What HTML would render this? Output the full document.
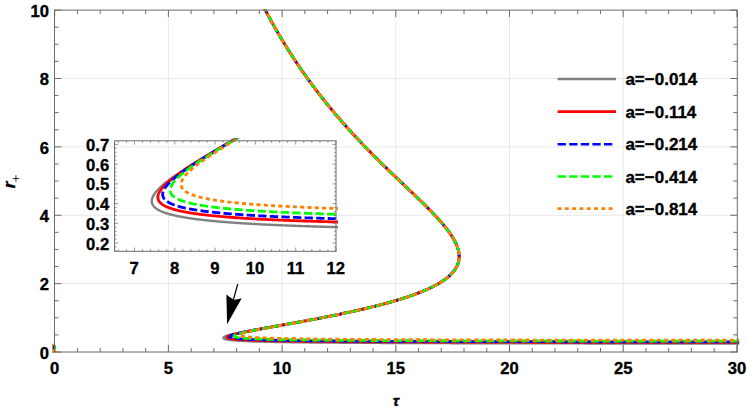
<!DOCTYPE html><html><head><meta charset="utf-8"><style>html,body{margin:0;padding:0;background:#fff}body{width:747px;height:407px;overflow:hidden;font-family:"Liberation Sans",sans-serif}</style></head><body><svg width="747" height="407" viewBox="0 0 747 407" style="display:block">
<rect width="747" height="407" fill="#fff"/>
<defs><clipPath id="cm"><rect x="51.50" y="9.60" width="687.60" height="343.40"/></clipPath><clipPath id="ci"><rect x="114.60" y="138.60" width="223.40" height="112.70"/></clipPath></defs>
<path d="M168.40 10.10 V352.00 M282.10 10.10 V352.00 M395.80 10.10 V352.00 M509.50 10.10 V352.00 M623.20 10.10 V352.00 M54.50 283.62 H737.30 M54.50 215.24 H737.30 M54.50 146.86 H737.30 M54.50 78.48 H737.30" stroke="#dadada" stroke-width="0.6" fill="none"/>
<g clip-path="url(#cm)" fill="none" stroke-width="2.8" stroke-linejoin="round">
<path d="M53.2 343.8 V353 M52.3 351.4 H56.2" stroke="#ff7f00" stroke-width="2.2"/><path d="M53.6 345.5 V349" stroke="#0000ff" stroke-width="1.4"/><path d="M55.2 345 V349.5" stroke="#00ff00" stroke-width="1.6"/>
<path d="M747.82 343.38 L745.06 343.38 L742.30 343.37 L739.56 343.37 L736.83 343.37 L734.11 343.37 L731.41 343.37 L728.71 343.37 L726.03 343.36 L723.37 343.36 L720.71 343.36 L718.07 343.36 L715.44 343.36 L712.82 343.35 L710.22 343.35 L707.62 343.35 L705.04 343.35 L702.47 343.35 L699.91 343.34 L697.37 343.34 L694.83 343.34 L692.31 343.34 L689.80 343.33 L687.30 343.33 L684.81 343.33 L682.34 343.33 L679.87 343.33 L677.42 343.32 L674.98 343.32 L672.55 343.32 L670.13 343.32 L667.72 343.32 L665.33 343.31 L662.94 343.31 L660.57 343.31 L658.21 343.31 L655.85 343.30 L653.51 343.30 L651.18 343.30 L648.86 343.30 L646.56 343.30 L644.26 343.29 L641.97 343.29 L639.70 343.29 L637.43 343.29 L635.17 343.28 L632.93 343.28 L630.70 343.28 L628.47 343.28 L626.26 343.27 L624.06 343.27 L621.86 343.27 L619.68 343.27 L617.51 343.26 L615.35 343.26 L613.19 343.26 L611.05 343.26 L608.92 343.26 L606.80 343.25 L604.68 343.25 L602.58 343.25 L600.49 343.25 L598.41 343.24 L596.33 343.24 L594.27 343.24 L592.22 343.24 L590.17 343.23 L588.14 343.23 L586.11 343.23 L584.10 343.22 L582.09 343.22 L580.09 343.22 L578.11 343.22 L576.13 343.21 L574.16 343.21 L572.20 343.21 L570.25 343.21 L568.31 343.20 L566.38 343.20 L564.45 343.20 L562.54 343.20 L560.63 343.19 L558.74 343.19 L556.85 343.19 L554.97 343.18 L553.10 343.18 L551.24 343.18 L549.39 343.18 L547.55 343.17 L545.71 343.17 L543.88 343.17 L542.07 343.16 L540.26 343.16 L538.46 343.16 L536.66 343.16 L534.88 343.15 L533.10 343.15 L531.34 343.15 L529.58 343.14 L527.83 343.14 L526.09 343.14 L524.35 343.14 L522.63 343.13 L520.91 343.13 L519.20 343.13 L517.50 343.12 L515.80 343.12 L514.12 343.12 L512.44 343.11 L510.77 343.11 L509.11 343.11 L507.46 343.10 L505.81 343.10 L504.17 343.10 L502.54 343.09 L500.92 343.09 L499.30 343.09 L497.69 343.09 L496.09 343.08 L494.50 343.08 L492.92 343.08 L491.34 343.07 L489.77 343.07 L488.21 343.07 L486.65 343.06 L485.10 343.06 L483.56 343.06 L482.03 343.05 L480.50 343.05 L478.98 343.05 L477.47 343.04 L475.97 343.04 L474.47 343.03 L472.98 343.03 L471.50 343.03 L470.02 343.02 L468.55 343.02 L467.09 343.02 L465.64 343.01 L464.19 343.01 L462.75 343.01 L461.31 343.00 L459.88 343.00 L458.46 343.00 L457.05 342.99 L455.64 342.99 L454.24 342.98 L452.85 342.98 L451.46 342.98 L450.08 342.97 L448.70 342.97 L447.34 342.97 L445.98 342.96 L444.62 342.96 L443.27 342.95 L441.93 342.95 L440.60 342.95 L439.27 342.94 L437.95 342.94 L436.63 342.94 L435.32 342.93 L434.02 342.93 L432.72 342.92 L431.43 342.92 L430.14 342.92 L428.86 342.91 L427.59 342.91 L426.33 342.90 L425.07 342.90 L423.81 342.89 L422.56 342.89 L421.32 342.89 L420.08 342.88 L418.85 342.88 L417.63 342.87 L416.41 342.87 L415.20 342.87 L413.99 342.86 L412.79 342.86 L411.60 342.85 L410.41 342.85 L409.22 342.84 L408.04 342.84 L406.87 342.84 L405.71 342.83 L404.54 342.83 L403.39 342.82 L402.24 342.82 L401.10 342.81 L399.96 342.81 L398.82 342.80 L397.70 342.80 L396.57 342.79 L395.46 342.79 L394.35 342.79 L393.24 342.78 L392.14 342.78 L391.05 342.77 L389.96 342.77 L388.87 342.76 L387.79 342.76 L386.72 342.75 L385.65 342.75 L384.59 342.74 L383.53 342.74 L382.48 342.73 L381.43 342.73 L380.39 342.72 L379.35 342.72 L378.32 342.71 L377.29 342.71 L376.27 342.70 L375.25 342.70 L374.24 342.69 L373.23 342.69 L372.23 342.68 L371.23 342.68 L370.24 342.67 L369.25 342.67 L368.27 342.66 L367.29 342.66 L366.31 342.65 L365.35 342.65 L364.38 342.64 L363.42 342.64 L362.47 342.63 L361.52 342.63 L360.58 342.62 L359.64 342.62 L358.70 342.61 L357.77 342.60 L356.84 342.60 L355.92 342.59 L355.01 342.59 L354.09 342.58 L353.19 342.58 L352.28 342.57 L351.39 342.57 L349.60 342.55 L347.84 342.54 L346.09 342.53 L344.36 342.52 L342.64 342.51 L340.95 342.50 L339.27 342.48 L337.61 342.47 L335.96 342.46 L334.34 342.45 L332.72 342.44 L331.13 342.42 L329.55 342.41 L327.99 342.40 L326.44 342.38 L324.91 342.37 L323.39 342.36 L321.89 342.35 L320.41 342.33 L318.94 342.32 L317.49 342.30 L316.05 342.29 L314.62 342.28 L313.22 342.26 L311.82 342.25 L310.44 342.23 L309.08 342.22 L307.73 342.21 L306.39 342.19 L305.07 342.18 L303.76 342.16 L302.47 342.15 L301.19 342.13 L299.92 342.12 L298.67 342.10 L297.43 342.08 L296.20 342.07 L294.99 342.05 L293.79 342.04 L292.61 342.02 L291.43 342.00 L290.27 341.99 L289.13 341.97 L287.99 341.95 L286.87 341.94 L285.76 341.92 L284.66 341.90 L283.58 341.89 L282.50 341.87 L281.44 341.85 L280.40 341.83 L279.36 341.81 L278.33 341.80 L277.32 341.78 L276.32 341.76 L275.33 341.74 L274.35 341.72 L273.39 341.70 L272.43 341.68 L271.49 341.66 L270.56 341.64 L269.63 341.62 L268.72 341.60 L267.83 341.58 L266.94 341.56 L265.62 341.53 L264.34 341.50 L263.07 341.47 L261.83 341.44 L260.61 341.40 L259.42 341.37 L258.25 341.34 L257.10 341.30 L255.97 341.27 L254.87 341.23 L253.79 341.20 L252.73 341.16 L251.69 341.12 L250.68 341.09 L249.68 341.05 L248.71 341.01 L247.75 340.97 L246.82 340.93 L245.91 340.89 L245.02 340.85 L244.15 340.81 L243.01 340.76 L241.92 340.70 L240.86 340.64 L239.83 340.59 L238.84 340.53 L237.88 340.47 L236.96 340.40 L236.07 340.34 L235.21 340.28 L234.18 340.19 L233.20 340.11 L232.28 340.03 L231.40 339.94 L230.57 339.85 L229.64 339.74 L228.78 339.62 L227.98 339.51 L227.15 339.37 L226.30 339.20 L225.57 339.03 L224.82 338.80 L224.16 338.52 L223.67 338.09 L223.89 337.40 L224.44 337.00 L225.06 336.68 L225.78 336.38 L226.44 336.14 L227.19 335.89 L227.90 335.67 L228.67 335.44 L229.51 335.20 L230.27 335.00 L231.06 334.80 L231.91 334.59 L232.80 334.38 L233.55 334.20 L234.32 334.02 L235.13 333.84 L235.97 333.66 L236.84 333.47 L237.73 333.28 L238.66 333.08 L239.62 332.88 L240.61 332.68 L241.38 332.52 L242.16 332.37 L242.96 332.21 L243.78 332.05 L244.61 331.88 L245.46 331.72 L246.33 331.55 L247.22 331.38 L248.13 331.21 L249.05 331.03 L250.00 330.85 L250.96 330.67 L251.94 330.49 L252.93 330.31 L253.95 330.12 L254.99 329.93 L256.04 329.74 L257.11 329.54 L258.20 329.34 L259.31 329.14 L260.44 328.94 L261.58 328.73 L262.36 328.59 L263.14 328.45 L263.93 328.31 L264.73 328.17 L265.54 328.02 L266.35 327.87 L267.18 327.73 L268.01 327.58 L268.85 327.43 L269.70 327.28 L270.56 327.12 L271.42 326.97 L272.30 326.81 L273.18 326.66 L274.07 326.50 L274.97 326.34 L275.88 326.18 L276.80 326.01 L277.72 325.85 L278.65 325.68 L279.60 325.52 L280.54 325.35 L281.50 325.18 L282.47 325.00 L283.44 324.83 L284.43 324.65 L285.42 324.48 L286.42 324.30 L287.42 324.12 L288.44 323.94 L289.46 323.75 L290.50 323.57 L291.54 323.38 L292.58 323.19 L293.64 323.00 L294.70 322.81 L295.78 322.61 L296.86 322.42 L297.94 322.22 L299.04 322.02 L300.14 321.82 L301.25 321.62 L302.37 321.41 L303.50 321.20 L304.63 320.99 L305.78 320.78 L306.93 320.57 L308.08 320.36 L309.25 320.14 L310.42 319.92 L311.60 319.70 L312.78 319.48 L313.98 319.25 L315.18 319.02 L316.39 318.79 L317.60 318.56 L318.82 318.33 L320.05 318.09 L321.28 317.86 L322.52 317.62 L323.77 317.37 L325.02 317.13 L326.28 316.88 L327.55 316.63 L328.82 316.38 L330.10 316.13 L331.38 315.87 L332.67 315.61 L333.97 315.35 L335.27 315.09 L336.57 314.82 L337.88 314.56 L339.20 314.29 L340.52 314.01 L341.85 313.74 L343.18 313.46 L344.51 313.18 L345.85 312.89 L347.19 312.61 L348.54 312.32 L349.89 312.03 L351.24 311.73 L352.60 311.44 L353.96 311.14 L355.32 310.84 L356.69 310.53 L358.06 310.22 L359.43 309.91 L360.81 309.60 L361.71 309.39 L362.60 309.19 L363.49 308.98 L364.38 308.77 L365.26 308.57 L366.13 308.36 L367.01 308.15 L367.87 307.95 L368.74 307.74 L369.59 307.53 L370.45 307.33 L371.30 307.12 L372.14 306.91 L372.98 306.71 L373.82 306.50 L374.65 306.29 L375.47 306.09 L376.29 305.88 L377.11 305.67 L377.92 305.47 L378.73 305.26 L379.53 305.05 L380.33 304.85 L381.12 304.64 L381.91 304.43 L382.69 304.23 L383.47 304.02 L384.25 303.81 L385.02 303.61 L385.78 303.40 L386.54 303.20 L387.30 302.99 L388.05 302.78 L388.79 302.58 L389.54 302.37 L390.27 302.16 L391.01 301.96 L391.73 301.75 L392.46 301.54 L393.18 301.34 L393.89 301.13 L394.60 300.92 L395.30 300.72 L396.00 300.51 L396.70 300.30 L397.74 299.99 L398.76 299.68 L399.77 299.37 L400.78 299.06 L401.77 298.75 L402.76 298.44 L403.73 298.13 L404.69 297.82 L405.64 297.51 L406.59 297.20 L407.52 296.89 L408.44 296.58 L409.36 296.27 L410.26 295.97 L411.15 295.66 L412.03 295.35 L412.91 295.04 L413.77 294.73 L414.62 294.42 L415.47 294.11 L416.30 293.80 L417.12 293.49 L417.94 293.18 L418.74 292.87 L419.54 292.56 L420.32 292.25 L421.10 291.94 L421.87 291.63 L422.62 291.32 L423.37 291.01 L424.11 290.70 L424.84 290.39 L425.56 290.08 L426.27 289.77 L426.97 289.46 L427.66 289.15 L428.35 288.84 L429.02 288.53 L429.68 288.22 L430.34 287.91 L430.99 287.60 L431.63 287.29 L432.26 286.98 L432.88 286.67 L433.49 286.36 L434.09 286.05 L434.69 285.74 L435.47 285.33 L436.23 284.91 L436.98 284.50 L437.72 284.09 L438.44 283.67 L439.14 283.26 L439.83 282.85 L440.51 282.43 L441.17 282.02 L441.82 281.61 L442.45 281.20 L443.07 280.78 L443.68 280.37 L444.27 279.96 L444.85 279.54 L445.42 279.13 L445.97 278.72 L446.51 278.30 L447.03 277.89 L447.54 277.48 L448.04 277.06 L448.53 276.65 L449.12 276.13 L449.69 275.62 L450.25 275.10 L450.78 274.58 L451.29 274.07 L451.79 273.55 L452.27 273.04 L452.72 272.52 L453.17 272.00 L453.59 271.49 L454.00 270.97 L454.38 270.45 L454.83 269.83 L455.25 269.21 L455.65 268.59 L456.02 267.97 L456.37 267.35 L456.70 266.74 L457.00 266.12 L457.29 265.50 L457.59 264.77 L457.87 264.05 L458.11 263.33 L458.33 262.60 L458.53 261.88 L458.71 261.05 L458.87 260.23 L458.99 259.40 L459.08 258.58 L459.14 257.65 L459.17 256.72 L459.15 255.79 L459.10 254.86 L459.02 253.93 L458.92 253.10 L458.79 252.27 L458.63 251.45 L458.45 250.62 L458.27 249.90 L458.07 249.18 L457.86 248.45 L457.63 247.73 L457.38 247.01 L457.11 246.28 L456.83 245.56 L456.53 244.84 L456.22 244.12 L455.94 243.50 L455.65 242.88 L455.34 242.26 L455.03 241.64 L454.71 241.02 L454.38 240.40 L454.04 239.78 L453.69 239.16 L453.32 238.54 L452.96 237.92 L452.58 237.30 L452.19 236.68 L451.79 236.06 L451.39 235.44 L450.98 234.82 L450.56 234.20 L450.13 233.58 L449.70 232.96 L449.26 232.34 L448.81 231.72 L448.35 231.10 L447.97 230.58 L447.58 230.07 L447.18 229.55 L446.78 229.04 L446.38 228.52 L445.97 228.00 L445.56 227.49 L445.15 226.97 L444.73 226.45 L444.30 225.94 L443.88 225.42 L443.45 224.90 L443.01 224.39 L442.57 223.87 L442.13 223.35 L441.69 222.84 L441.24 222.32 L440.79 221.81 L440.33 221.29 L439.88 220.77 L439.42 220.26 L438.95 219.74 L438.49 219.22 L438.02 218.71 L437.54 218.19 L437.07 217.67 L436.59 217.16 L436.11 216.64 L435.63 216.12 L435.15 215.61 L434.66 215.09 L434.17 214.58 L433.68 214.06 L433.19 213.54 L432.69 213.03 L432.19 212.51 L431.69 211.99 L431.19 211.48 L430.69 210.96 L430.18 210.44 L429.68 209.93 L429.17 209.41 L428.66 208.89 L428.15 208.38 L427.63 207.86 L427.12 207.35 L426.60 206.83 L426.09 206.31 L425.57 205.80 L425.05 205.28 L424.52 204.76 L424.00 204.25 L423.48 203.73 L422.95 203.21 L422.43 202.70 L421.90 202.18 L421.37 201.66 L420.84 201.15 L420.31 200.63 L419.78 200.12 L419.25 199.60 L418.72 199.08 L418.18 198.57 L417.65 198.05 L417.12 197.53 L416.58 197.02 L416.04 196.50 L415.51 195.98 L414.97 195.47 L414.43 194.95 L413.89 194.43 L413.36 193.92 L412.82 193.40 L412.28 192.89 L411.74 192.37 L411.20 191.85 L410.66 191.34 L410.12 190.82 L409.58 190.30 L409.03 189.79 L408.49 189.27 L407.95 188.75 L407.41 188.24 L406.87 187.72 L406.33 187.20 L405.78 186.69 L405.24 186.17 L404.70 185.66 L404.16 185.14 L403.62 184.62 L403.07 184.11 L402.53 183.59 L401.99 183.07 L401.45 182.56 L400.91 182.04 L400.37 181.52 L399.82 181.01 L399.28 180.49 L398.74 179.97 L398.20 179.46 L397.66 178.94 L397.12 178.43 L396.58 177.91 L396.04 177.39 L395.50 176.88 L394.96 176.36 L394.43 175.84 L393.89 175.33 L393.35 174.81 L392.81 174.29 L392.28 173.78 L391.74 173.26 L391.20 172.74 L390.67 172.23 L390.13 171.71 L389.60 171.20 L389.07 170.68 L388.53 170.16 L388.00 169.65 L387.47 169.13 L386.93 168.61 L386.40 168.10 L385.87 167.58 L385.34 167.06 L384.81 166.55 L384.28 166.03 L383.76 165.51 L383.23 165.00 L382.70 164.48 L382.18 163.97 L381.65 163.45 L381.13 162.93 L380.60 162.42 L380.08 161.90 L379.55 161.38 L379.03 160.87 L378.51 160.35 L377.99 159.83 L377.47 159.32 L376.95 158.80 L376.43 158.28 L375.92 157.77 L375.40 157.25 L374.88 156.74 L374.37 156.22 L373.85 155.70 L373.34 155.19 L372.83 154.67 L372.31 154.15 L371.80 153.64 L371.29 153.12 L370.78 152.60 L370.27 152.09 L369.77 151.57 L369.26 151.05 L368.75 150.54 L368.25 150.02 L367.74 149.51 L367.24 148.99 L366.74 148.47 L366.24 147.96 L365.74 147.44 L365.24 146.92 L364.74 146.41 L364.24 145.89 L363.74 145.37 L363.24 144.86 L362.75 144.34 L362.25 143.82 L361.76 143.31 L361.27 142.79 L360.78 142.27 L360.29 141.76 L359.80 141.24 L359.31 140.73 L358.82 140.21 L358.33 139.69 L357.85 139.18 L357.36 138.66 L356.88 138.14 L356.39 137.63 L355.91 137.11 L355.43 136.59 L354.95 136.08 L354.47 135.56 L353.99 135.04 L353.51 134.53 L353.04 134.01 L352.56 133.50 L352.09 132.98 L351.61 132.46 L351.14 131.95 L350.67 131.43 L350.20 130.91 L349.73 130.40 L349.26 129.88 L348.79 129.36 L348.33 128.85 L347.86 128.33 L347.40 127.81 L346.93 127.30 L346.47 126.78 L346.01 126.27 L345.55 125.75 L345.09 125.23 L344.63 124.72 L344.17 124.20 L343.72 123.68 L343.26 123.17 L342.81 122.65 L342.35 122.13 L341.90 121.62 L341.45 121.10 L341.00 120.58 L340.55 120.07 L340.10 119.55 L339.65 119.04 L339.20 118.52 L338.76 118.00 L338.31 117.49 L337.87 116.97 L337.43 116.45 L336.99 115.94 L336.54 115.42 L336.10 114.90 L335.67 114.39 L335.23 113.87 L334.79 113.35 L334.36 112.84 L333.92 112.32 L333.49 111.81 L333.05 111.29 L332.62 110.77 L332.19 110.26 L331.76 109.74 L331.33 109.22 L330.91 108.71 L330.48 108.19 L330.05 107.67 L329.63 107.16 L329.20 106.64 L328.78 106.12 L328.36 105.61 L327.94 105.09 L327.52 104.58 L327.10 104.06 L326.68 103.54 L326.26 103.03 L325.85 102.51 L325.43 101.99 L325.02 101.48 L324.61 100.96 L324.19 100.44 L323.78 99.93 L323.37 99.41 L322.96 98.89 L322.55 98.38 L322.15 97.86 L321.74 97.35 L321.33 96.83 L320.93 96.31 L320.53 95.80 L320.12 95.28 L319.72 94.76 L319.32 94.25 L318.92 93.73 L318.52 93.21 L318.13 92.70 L317.73 92.18 L317.33 91.66 L316.94 91.15 L316.54 90.63 L316.15 90.12 L315.76 89.60 L315.37 89.08 L314.98 88.57 L314.59 88.05 L314.20 87.53 L313.81 87.02 L313.42 86.50 L313.04 85.98 L312.65 85.47 L312.27 84.95 L311.81 84.33 L311.35 83.71 L310.90 83.09 L310.44 82.47 L309.99 81.85 L309.53 81.23 L309.08 80.61 L308.63 79.99 L308.18 79.37 L307.74 78.75 L307.29 78.13 L306.84 77.51 L306.40 76.89 L305.96 76.27 L305.52 75.66 L305.08 75.04 L304.64 74.42 L304.20 73.80 L303.77 73.18 L303.33 72.56 L302.90 71.94 L302.47 71.32 L302.03 70.70 L301.60 70.08 L301.18 69.46 L300.75 68.84 L300.32 68.22 L299.90 67.60 L299.47 66.98 L299.05 66.36 L298.63 65.74 L298.21 65.12 L297.79 64.50 L297.37 63.88 L296.96 63.26 L296.54 62.64 L296.13 62.02 L295.72 61.40 L295.30 60.78 L294.89 60.16 L294.48 59.54 L294.08 58.92 L293.67 58.30 L293.26 57.68 L292.86 57.06 L292.46 56.44 L292.05 55.82 L291.65 55.20 L291.25 54.58 L290.86 53.97 L290.46 53.35 L290.06 52.73 L289.67 52.11 L289.27 51.49 L288.88 50.87 L288.49 50.25 L288.10 49.63 L287.71 49.01 L287.32 48.39 L286.93 47.77 L286.55 47.15 L286.16 46.53 L285.78 45.91 L285.39 45.29 L285.01 44.67 L284.63 44.05 L284.25 43.43 L283.87 42.81 L283.50 42.19 L283.12 41.57 L282.74 40.95 L282.37 40.33 L282.00 39.71 L281.62 39.09 L281.25 38.47 L280.88 37.85 L280.51 37.23 L280.15 36.61 L279.78 35.99 L279.41 35.37 L279.05 34.75 L278.69 34.13 L278.32 33.51 L277.96 32.89 L277.60 32.27 L277.24 31.66 L276.88 31.04 L276.53 30.42 L276.17 29.80 L275.81 29.18 L275.46 28.56 L275.11 27.94 L274.75 27.32 L274.40 26.70 L274.05 26.08 L273.70 25.46 L273.35 24.84 L273.01 24.22 L272.66 23.60 L272.31 22.98 L271.97 22.36 L271.62 21.74 L271.28 21.12 L270.94 20.50 L270.60 19.88 L270.26 19.26 L269.92 18.64 L269.58 18.02 L269.25 17.40 L268.91 16.78 L268.58 16.16 L268.24 15.54 L267.91 14.92 L267.58 14.30 L267.24 13.68 L266.91 13.06 L266.58 12.44 L266.26 11.82 L265.93 11.20 L265.60 10.58 L265.28 9.97 L264.95 9.35 L264.63 8.73 L264.30 8.11 L263.98 7.49 L263.66 6.87 L263.34 6.25 L263.02 5.63 L262.70 5.01 L262.38 4.39 L262.07 3.77 L261.75 3.15 L261.44 2.53 L261.12 1.91 L260.81 1.29 L260.49 0.67 L260.18 0.05 L260.08 -0.16" stroke="#808080"/>
<path d="M747.78 342.44 L745.03 342.44 L742.29 342.44 L739.56 342.44 L736.85 342.44 L734.14 342.43 L731.46 342.43 L728.78 342.43 L726.11 342.43 L723.46 342.43 L720.82 342.43 L718.20 342.42 L715.58 342.42 L712.98 342.42 L710.39 342.42 L707.81 342.42 L705.24 342.41 L702.68 342.41 L700.14 342.41 L697.61 342.41 L695.09 342.41 L692.58 342.40 L690.09 342.40 L687.60 342.40 L685.13 342.40 L682.67 342.40 L680.22 342.39 L677.78 342.39 L675.35 342.39 L672.94 342.39 L670.53 342.39 L668.14 342.38 L665.76 342.38 L663.38 342.38 L661.02 342.38 L658.68 342.38 L656.34 342.37 L654.01 342.37 L651.69 342.37 L649.39 342.37 L647.09 342.37 L644.81 342.36 L642.54 342.36 L640.27 342.36 L638.02 342.36 L635.78 342.36 L633.55 342.35 L631.33 342.35 L629.11 342.35 L626.91 342.35 L624.72 342.34 L622.54 342.34 L620.38 342.34 L618.22 342.34 L616.07 342.34 L613.93 342.33 L611.80 342.33 L609.68 342.33 L607.57 342.33 L605.47 342.32 L603.38 342.32 L601.30 342.32 L599.23 342.32 L597.17 342.31 L595.12 342.31 L593.08 342.31 L591.04 342.31 L589.02 342.30 L587.01 342.30 L585.01 342.30 L583.01 342.30 L581.03 342.29 L579.05 342.29 L577.09 342.29 L575.13 342.29 L573.18 342.28 L571.24 342.28 L569.31 342.28 L567.39 342.28 L565.48 342.27 L563.58 342.27 L561.69 342.27 L559.80 342.27 L557.92 342.26 L556.06 342.26 L554.20 342.26 L552.35 342.26 L550.51 342.25 L548.68 342.25 L546.85 342.25 L545.04 342.25 L543.23 342.24 L541.43 342.24 L539.65 342.24 L537.86 342.24 L536.09 342.23 L534.33 342.23 L532.57 342.23 L530.82 342.22 L529.08 342.22 L527.35 342.22 L525.63 342.22 L523.92 342.21 L522.21 342.21 L520.51 342.21 L518.82 342.20 L517.14 342.20 L515.46 342.20 L513.79 342.20 L512.14 342.19 L510.48 342.19 L508.84 342.19 L507.20 342.18 L505.58 342.18 L503.96 342.18 L502.34 342.17 L500.74 342.17 L499.14 342.17 L497.55 342.17 L495.97 342.16 L494.40 342.16 L492.83 342.16 L491.27 342.15 L489.72 342.15 L488.17 342.15 L486.63 342.14 L485.10 342.14 L483.58 342.14 L482.06 342.13 L480.55 342.13 L479.05 342.13 L477.56 342.12 L476.07 342.12 L474.59 342.12 L473.12 342.12 L471.65 342.11 L470.19 342.11 L468.74 342.11 L467.29 342.10 L465.86 342.10 L464.42 342.10 L463.00 342.09 L461.58 342.09 L460.17 342.08 L458.77 342.08 L457.37 342.08 L455.98 342.07 L454.59 342.07 L453.21 342.07 L451.84 342.06 L450.48 342.06 L449.12 342.06 L447.77 342.05 L446.42 342.05 L445.08 342.05 L443.75 342.04 L442.43 342.04 L441.11 342.04 L439.79 342.03 L438.49 342.03 L437.19 342.02 L435.89 342.02 L434.60 342.02 L433.32 342.01 L432.05 342.01 L430.78 342.01 L429.51 342.00 L428.25 342.00 L427.00 341.99 L425.76 341.99 L424.52 341.99 L423.28 341.98 L422.06 341.98 L420.84 341.97 L419.62 341.97 L418.41 341.97 L417.21 341.96 L416.01 341.96 L414.82 341.95 L413.63 341.95 L412.45 341.95 L411.27 341.94 L410.10 341.94 L408.94 341.93 L407.78 341.93 L406.63 341.93 L405.48 341.92 L404.34 341.92 L403.21 341.91 L402.08 341.91 L400.95 341.91 L399.83 341.90 L398.72 341.90 L397.61 341.89 L396.51 341.89 L395.41 341.88 L394.32 341.88 L393.23 341.87 L392.15 341.87 L391.07 341.87 L390.00 341.86 L388.94 341.86 L387.88 341.85 L386.82 341.85 L385.77 341.84 L384.73 341.84 L383.69 341.83 L382.65 341.83 L381.62 341.83 L380.60 341.82 L379.58 341.82 L378.56 341.81 L377.55 341.81 L376.55 341.80 L375.55 341.80 L374.55 341.79 L373.56 341.79 L372.58 341.78 L371.60 341.78 L370.62 341.77 L369.65 341.77 L368.69 341.76 L367.73 341.76 L366.77 341.75 L365.82 341.75 L364.87 341.74 L363.93 341.74 L363.00 341.73 L362.06 341.73 L361.14 341.72 L360.21 341.72 L359.29 341.71 L358.38 341.71 L357.47 341.70 L356.57 341.70 L355.67 341.69 L354.77 341.69 L352.99 341.68 L351.23 341.67 L349.49 341.66 L347.77 341.64 L346.06 341.63 L344.37 341.62 L342.69 341.61 L341.04 341.60 L339.40 341.59 L337.78 341.58 L336.17 341.57 L334.58 341.55 L333.01 341.54 L331.45 341.53 L329.91 341.52 L328.38 341.51 L326.87 341.49 L325.38 341.48 L323.90 341.47 L322.44 341.46 L320.99 341.44 L319.56 341.43 L318.14 341.42 L316.73 341.40 L315.35 341.39 L313.97 341.38 L312.61 341.36 L311.27 341.35 L309.94 341.34 L308.62 341.32 L307.32 341.31 L306.03 341.30 L304.75 341.28 L303.49 341.27 L302.25 341.25 L301.01 341.24 L299.79 341.22 L298.58 341.21 L297.39 341.19 L296.21 341.18 L295.04 341.16 L293.88 341.15 L292.74 341.13 L291.61 341.12 L290.50 341.10 L289.39 341.08 L288.30 341.07 L287.22 341.05 L286.15 341.04 L285.10 341.02 L284.05 341.00 L283.02 340.99 L282.00 340.97 L280.99 340.95 L280.00 340.93 L279.01 340.92 L278.04 340.90 L277.08 340.88 L276.12 340.86 L275.19 340.84 L274.26 340.83 L273.34 340.81 L272.43 340.79 L271.54 340.77 L270.65 340.75 L269.35 340.72 L268.07 340.69 L266.81 340.66 L265.57 340.63 L264.36 340.60 L263.17 340.57 L262.01 340.54 L260.86 340.51 L259.74 340.48 L258.64 340.44 L257.57 340.41 L256.51 340.38 L255.48 340.34 L254.46 340.31 L253.47 340.27 L252.50 340.24 L251.55 340.20 L250.62 340.16 L249.71 340.13 L248.82 340.09 L247.95 340.05 L246.83 340.00 L245.73 339.95 L244.67 339.89 L243.65 339.84 L242.66 339.78 L241.70 339.73 L240.78 339.67 L239.88 339.61 L239.02 339.55 L237.99 339.47 L237.01 339.40 L236.08 339.32 L235.20 339.23 L234.36 339.15 L233.42 339.05 L232.55 338.94 L231.74 338.83 L230.89 338.70 L230.12 338.57 L229.35 338.41 L228.61 338.22 L227.91 337.98 L227.32 337.66 L227.16 336.92 L227.68 336.47 L228.29 336.13 L228.94 335.85 L229.63 335.59 L230.32 335.35 L231.10 335.11 L231.84 334.89 L232.64 334.67 L233.35 334.48 L234.10 334.28 L234.90 334.08 L235.75 333.88 L236.63 333.67 L237.37 333.50 L238.15 333.33 L238.94 333.15 L239.77 332.97 L240.63 332.79 L241.51 332.60 L242.43 332.41 L243.37 332.22 L244.35 332.02 L245.10 331.87 L245.86 331.72 L246.65 331.56 L247.45 331.41 L248.27 331.25 L249.10 331.09 L249.95 330.92 L250.82 330.76 L251.70 330.59 L252.61 330.42 L253.53 330.25 L254.46 330.07 L255.42 329.89 L256.39 329.71 L257.38 329.53 L258.39 329.35 L259.41 329.16 L260.45 328.97 L261.51 328.78 L262.59 328.58 L263.69 328.38 L264.80 328.18 L265.93 327.98 L266.69 327.84 L267.47 327.70 L268.25 327.56 L269.03 327.42 L269.83 327.28 L270.63 327.13 L271.45 326.99 L272.27 326.84 L273.09 326.69 L273.93 326.54 L274.77 326.39 L275.62 326.24 L276.48 326.09 L277.35 325.93 L278.23 325.78 L279.11 325.62 L280.00 325.46 L280.90 325.30 L281.81 325.14 L282.73 324.97 L283.65 324.81 L284.58 324.64 L285.52 324.47 L286.47 324.30 L287.42 324.13 L288.39 323.96 L289.36 323.78 L290.34 323.61 L291.32 323.43 L292.32 323.25 L293.32 323.07 L294.33 322.88 L295.35 322.70 L296.38 322.51 L297.41 322.33 L298.45 322.14 L299.50 321.94 L300.56 321.75 L301.62 321.56 L302.69 321.36 L303.77 321.16 L304.86 320.96 L305.95 320.76 L307.05 320.55 L308.16 320.35 L309.28 320.14 L310.40 319.93 L311.53 319.72 L312.67 319.50 L313.81 319.29 L314.96 319.07 L316.12 318.85 L317.29 318.63 L318.46 318.40 L319.64 318.18 L320.82 317.95 L322.01 317.72 L323.21 317.49 L324.42 317.25 L325.63 317.01 L326.84 316.78 L328.07 316.53 L329.29 316.29 L330.53 316.05 L331.77 315.80 L333.02 315.55 L334.27 315.29 L335.52 315.04 L336.79 314.78 L338.05 314.52 L339.33 314.26 L340.61 314.00 L341.89 313.73 L343.18 313.46 L344.47 313.19 L345.76 312.91 L347.06 312.64 L348.37 312.36 L349.68 312.08 L350.99 311.79 L352.31 311.50 L353.62 311.21 L354.95 310.92 L356.27 310.63 L357.60 310.33 L358.93 310.03 L360.27 309.72 L361.60 309.42 L362.94 309.11 L364.28 308.80 L365.39 308.54 L366.27 308.33 L367.13 308.12 L368.00 307.92 L368.86 307.71 L369.71 307.51 L370.56 307.30 L371.41 307.09 L372.25 306.89 L373.09 306.68 L373.92 306.48 L374.74 306.27 L375.57 306.06 L376.38 305.86 L377.20 305.65 L378.01 305.45 L378.81 305.24 L379.61 305.03 L380.40 304.83 L381.19 304.62 L381.98 304.42 L382.76 304.21 L383.54 304.01 L384.31 303.80 L385.07 303.59 L385.84 303.39 L386.59 303.18 L387.35 302.98 L388.10 302.77 L388.84 302.56 L389.58 302.36 L390.31 302.15 L391.04 301.95 L391.77 301.74 L392.49 301.53 L393.21 301.33 L393.92 301.12 L394.62 300.92 L395.33 300.71 L396.03 300.50 L397.06 300.20 L398.09 299.89 L399.11 299.58 L400.12 299.27 L401.11 298.96 L402.10 298.65 L403.08 298.34 L404.05 298.03 L405.00 297.72 L405.95 297.42 L406.89 297.11 L407.81 296.80 L408.73 296.49 L409.64 296.18 L410.53 295.87 L411.42 295.56 L412.30 295.25 L413.16 294.94 L414.02 294.64 L414.87 294.33 L415.71 294.02 L416.53 293.71 L417.35 293.40 L418.16 293.09 L418.96 292.78 L419.75 292.47 L420.53 292.16 L421.30 291.86 L422.07 291.55 L422.82 291.24 L423.56 290.93 L424.29 290.62 L425.02 290.31 L425.73 290.00 L426.44 289.69 L427.14 289.38 L427.83 289.08 L428.50 288.77 L429.17 288.46 L429.84 288.15 L430.49 287.84 L431.13 287.53 L431.77 287.22 L432.39 286.91 L433.01 286.60 L433.62 286.29 L434.22 285.99 L434.81 285.68 L435.58 285.27 L436.34 284.85 L437.09 284.44 L437.82 284.03 L438.53 283.62 L439.24 283.21 L439.92 282.79 L440.59 282.38 L441.25 281.97 L441.90 281.56 L442.53 281.15 L443.14 280.73 L443.75 280.32 L444.33 279.91 L444.91 279.50 L445.47 279.09 L446.02 278.68 L446.56 278.26 L447.08 277.85 L447.59 277.44 L448.09 277.03 L448.69 276.51 L449.27 276.00 L449.84 275.48 L450.38 274.97 L450.91 274.45 L451.42 273.94 L451.91 273.42 L452.38 272.91 L452.83 272.39 L453.27 271.88 L453.69 271.36 L454.09 270.85 L454.55 270.23 L454.98 269.61 L455.39 269.00 L455.78 268.38 L456.14 267.76 L456.48 267.14 L456.80 266.53 L457.10 265.91 L457.42 265.19 L457.71 264.47 L457.97 263.75 L458.21 263.02 L458.42 262.30 L458.60 261.58 L458.77 260.76 L458.91 259.94 L459.02 259.11 L459.10 258.29 L459.15 257.36 L459.17 256.43 L459.14 255.51 L459.08 254.58 L459.00 253.76 L458.89 252.93 L458.76 252.11 L458.60 251.29 L458.41 250.46 L458.23 249.74 L458.03 249.02 L457.81 248.30 L457.58 247.58 L457.32 246.86 L457.06 246.14 L456.77 245.42 L456.47 244.70 L456.16 243.98 L455.83 243.26 L455.53 242.64 L455.23 242.02 L454.91 241.40 L454.59 240.78 L454.25 240.17 L453.91 239.55 L453.55 238.93 L453.19 238.31 L452.82 237.69 L452.44 237.08 L452.05 236.46 L451.65 235.84 L451.25 235.22 L450.84 234.61 L450.41 233.99 L449.99 233.37 L449.55 232.75 L449.11 232.13 L448.66 231.52 L448.20 230.90 L447.82 230.38 L447.42 229.87 L447.03 229.35 L446.63 228.84 L446.23 228.32 L445.82 227.81 L445.41 227.30 L444.99 226.78 L444.57 226.27 L444.15 225.75 L443.72 225.24 L443.29 224.72 L442.86 224.21 L442.42 223.69 L441.98 223.18 L441.53 222.66 L441.09 222.15 L440.64 221.63 L440.18 221.12 L439.72 220.60 L439.26 220.09 L438.80 219.57 L438.34 219.06 L437.87 218.54 L437.40 218.03 L436.92 217.51 L436.45 217.00 L435.97 216.48 L435.49 215.97 L435.00 215.45 L434.52 214.94 L434.03 214.42 L433.54 213.91 L433.04 213.39 L432.55 212.88 L432.05 212.37 L431.56 211.85 L431.05 211.34 L430.55 210.82 L430.05 210.31 L429.54 209.79 L429.04 209.28 L428.53 208.76 L428.02 208.25 L427.50 207.73 L426.99 207.22 L426.48 206.70 L425.96 206.19 L425.44 205.67 L424.92 205.16 L424.40 204.64 L423.88 204.13 L423.36 203.61 L422.84 203.10 L422.31 202.58 L421.79 202.07 L421.26 201.55 L420.73 201.04 L420.20 200.52 L419.67 200.01 L419.14 199.49 L418.61 198.98 L418.08 198.46 L417.55 197.95 L417.01 197.44 L416.48 196.92 L415.95 196.41 L415.41 195.89 L414.88 195.38 L414.34 194.86 L413.80 194.35 L413.27 193.83 L412.73 193.32 L412.19 192.80 L411.65 192.29 L411.11 191.77 L410.57 191.26 L410.04 190.74 L409.50 190.23 L408.96 189.71 L408.42 189.20 L407.88 188.68 L407.34 188.17 L406.80 187.65 L406.26 187.14 L405.72 186.62 L405.18 186.11 L404.64 185.59 L404.10 185.08 L403.56 184.56 L403.02 184.05 L402.47 183.53 L401.93 183.02 L401.39 182.51 L400.85 181.99 L400.32 181.48 L399.78 180.96 L399.24 180.45 L398.70 179.93 L398.16 179.42 L397.62 178.90 L397.08 178.39 L396.54 177.87 L396.01 177.36 L395.47 176.84 L394.93 176.33 L394.39 175.81 L393.86 175.30 L393.32 174.78 L392.79 174.27 L392.25 173.75 L391.72 173.24 L391.18 172.72 L390.65 172.21 L390.12 171.69 L389.58 171.18 L389.05 170.66 L388.52 170.15 L387.99 169.63 L387.46 169.12 L386.93 168.60 L386.40 168.09 L385.87 167.57 L385.34 167.06 L384.81 166.55 L384.28 166.03 L383.76 165.52 L383.23 165.00 L382.71 164.49 L382.18 163.97 L381.66 163.46 L381.13 162.94 L380.61 162.43 L380.09 161.91 L379.57 161.40 L379.05 160.88 L378.53 160.37 L378.01 159.85 L377.49 159.34 L376.97 158.82 L376.46 158.31 L375.94 157.79 L375.43 157.28 L374.91 156.76 L374.40 156.25 L373.88 155.73 L373.37 155.22 L372.86 154.70 L372.35 154.19 L371.84 153.67 L371.33 153.16 L370.82 152.64 L370.32 152.13 L369.81 151.62 L369.30 151.10 L368.80 150.59 L368.30 150.07 L367.79 149.56 L367.29 149.04 L366.79 148.53 L366.29 148.01 L365.79 147.50 L365.29 146.98 L364.79 146.47 L364.30 145.95 L363.80 145.44 L363.31 144.92 L362.81 144.41 L362.32 143.89 L361.83 143.38 L361.34 142.86 L360.85 142.35 L360.36 141.83 L359.87 141.32 L359.38 140.80 L358.89 140.29 L358.41 139.77 L357.92 139.26 L357.44 138.74 L356.96 138.23 L356.48 137.71 L355.99 137.20 L355.51 136.69 L355.04 136.17 L354.56 135.66 L354.08 135.14 L353.60 134.63 L353.13 134.11 L352.66 133.60 L352.18 133.08 L351.71 132.57 L351.24 132.05 L350.77 131.54 L350.30 131.02 L349.83 130.51 L349.36 129.99 L348.90 129.48 L348.43 128.96 L347.97 128.45 L347.50 127.93 L347.04 127.42 L346.58 126.90 L346.12 126.39 L345.66 125.87 L345.20 125.36 L344.74 124.84 L344.29 124.33 L343.83 123.81 L343.38 123.30 L342.92 122.78 L342.47 122.27 L342.02 121.75 L341.57 121.24 L341.12 120.73 L340.67 120.21 L340.22 119.70 L339.78 119.18 L339.33 118.67 L338.89 118.15 L338.44 117.64 L338.00 117.12 L337.56 116.61 L337.12 116.09 L336.68 115.58 L336.24 115.06 L335.80 114.55 L335.36 114.03 L334.93 113.52 L334.49 113.00 L334.06 112.49 L333.63 111.97 L333.20 111.46 L332.77 110.94 L332.34 110.43 L331.91 109.91 L331.48 109.40 L331.05 108.88 L330.63 108.37 L330.20 107.85 L329.78 107.34 L329.35 106.82 L328.93 106.31 L328.51 105.80 L328.09 105.28 L327.67 104.77 L327.25 104.25 L326.84 103.74 L326.42 103.22 L326.01 102.71 L325.59 102.19 L325.18 101.68 L324.77 101.16 L324.35 100.65 L323.94 100.13 L323.54 99.62 L323.13 99.10 L322.72 98.59 L322.31 98.07 L321.91 97.56 L321.50 97.04 L321.10 96.53 L320.70 96.01 L320.29 95.50 L319.89 94.98 L319.49 94.47 L319.10 93.95 L318.70 93.44 L318.30 92.92 L317.90 92.41 L317.51 91.89 L317.11 91.38 L316.72 90.87 L316.33 90.35 L315.94 89.84 L315.55 89.32 L315.16 88.81 L314.77 88.29 L314.38 87.78 L313.99 87.26 L313.61 86.75 L313.15 86.13 L312.69 85.51 L312.23 84.89 L311.77 84.28 L311.31 83.66 L310.86 83.04 L310.40 82.42 L309.95 81.80 L309.50 81.19 L309.05 80.57 L308.60 79.95 L308.15 79.33 L307.71 78.72 L307.26 78.10 L306.82 77.48 L306.38 76.86 L305.94 76.24 L305.50 75.63 L305.06 75.01 L304.62 74.39 L304.19 73.77 L303.75 73.15 L303.32 72.54 L302.89 71.92 L302.45 71.30 L302.02 70.68 L301.60 70.07 L301.17 69.45 L300.74 68.83 L300.32 68.21 L299.89 67.59 L299.47 66.98 L299.05 66.36 L298.63 65.74 L298.21 65.12 L297.80 64.51 L297.38 63.89 L296.96 63.27 L296.55 62.65 L296.14 62.03 L295.73 61.42 L295.32 60.80 L294.91 60.18 L294.50 59.56 L294.09 58.95 L293.69 58.33 L293.28 57.71 L292.88 57.09 L292.48 56.47 L292.08 55.86 L291.68 55.24 L291.28 54.62 L290.88 54.00 L290.48 53.39 L290.09 52.77 L289.69 52.15 L289.30 51.53 L288.91 50.91 L288.52 50.30 L288.13 49.68 L287.74 49.06 L287.35 48.44 L286.97 47.83 L286.58 47.21 L286.20 46.59 L285.82 45.97 L285.43 45.35 L285.05 44.74 L284.67 44.12 L284.29 43.50 L283.92 42.88 L283.54 42.27 L283.17 41.65 L282.79 41.03 L282.42 40.41 L282.05 39.79 L281.67 39.18 L281.30 38.56 L280.94 37.94 L280.57 37.32 L280.20 36.70 L279.84 36.09 L279.47 35.47 L279.11 34.85 L278.74 34.23 L278.38 33.62 L278.02 33.00 L277.66 32.38 L277.30 31.76 L276.95 31.14 L276.59 30.53 L276.23 29.91 L275.88 29.29 L275.53 28.67 L275.17 28.06 L274.82 27.44 L274.47 26.82 L274.12 26.20 L273.77 25.58 L273.42 24.97 L273.08 24.35 L272.73 23.73 L272.39 23.11 L272.04 22.50 L271.70 21.88 L271.36 21.26 L271.02 20.64 L270.68 20.02 L270.34 19.41 L270.00 18.79 L269.66 18.17 L269.33 17.55 L268.99 16.94 L268.66 16.32 L268.33 15.70 L267.99 15.08 L267.66 14.46 L267.33 13.85 L267.00 13.23 L266.67 12.61 L266.35 11.99 L266.02 11.38 L265.69 10.76 L265.37 10.14 L265.04 9.52 L264.72 8.90 L264.40 8.29 L264.08 7.67 L263.76 7.05 L263.44 6.43 L263.12 5.82 L262.80 5.20 L262.48 4.58 L262.17 3.96 L261.85 3.34 L261.54 2.73 L261.22 2.11 L260.91 1.49 L260.60 0.87 L260.29 0.25 L260.08 -0.16" stroke="#ff0000"/>
<path d="M748.31 341.90 L745.56 341.90 L742.82 341.90 L740.10 341.90 L737.38 341.89 L734.68 341.89 L732.00 341.89 L729.32 341.89 L726.66 341.89 L724.01 341.89 L721.37 341.88 L718.75 341.88 L716.14 341.88 L713.54 341.88 L710.95 341.88 L708.37 341.87 L705.81 341.87 L703.25 341.87 L700.71 341.87 L698.18 341.87 L695.67 341.86 L693.16 341.86 L690.67 341.86 L688.19 341.86 L685.72 341.86 L683.26 341.85 L680.81 341.85 L678.37 341.85 L675.95 341.85 L673.54 341.85 L671.13 341.84 L668.74 341.84 L666.36 341.84 L663.99 341.84 L661.64 341.84 L659.29 341.83 L656.95 341.83 L654.63 341.83 L652.31 341.83 L650.01 341.83 L647.72 341.82 L645.44 341.82 L643.16 341.82 L640.90 341.82 L638.65 341.81 L636.41 341.81 L634.19 341.81 L631.97 341.81 L629.76 341.81 L627.56 341.80 L625.37 341.80 L623.20 341.80 L621.03 341.80 L618.87 341.79 L616.72 341.79 L614.59 341.79 L612.46 341.79 L610.34 341.78 L608.23 341.78 L606.14 341.78 L604.05 341.78 L601.97 341.78 L599.90 341.77 L597.85 341.77 L595.80 341.77 L593.76 341.77 L591.73 341.76 L589.71 341.76 L587.70 341.76 L585.70 341.76 L583.70 341.75 L581.72 341.75 L579.75 341.75 L577.79 341.75 L575.83 341.74 L573.89 341.74 L571.95 341.74 L570.02 341.74 L568.10 341.73 L566.19 341.73 L564.29 341.73 L562.40 341.73 L560.52 341.72 L558.65 341.72 L556.78 341.72 L554.93 341.72 L553.08 341.71 L551.24 341.71 L549.41 341.71 L547.59 341.70 L545.78 341.70 L543.97 341.70 L542.18 341.70 L540.39 341.69 L538.61 341.69 L536.84 341.69 L535.08 341.69 L533.32 341.68 L531.58 341.68 L529.84 341.68 L528.11 341.67 L526.39 341.67 L524.68 341.67 L522.97 341.67 L521.28 341.66 L519.59 341.66 L517.91 341.66 L516.24 341.65 L514.57 341.65 L512.91 341.65 L511.27 341.65 L509.62 341.64 L507.99 341.64 L506.37 341.64 L504.75 341.63 L503.14 341.63 L501.53 341.63 L499.94 341.62 L498.35 341.62 L496.77 341.62 L495.20 341.61 L493.63 341.61 L492.08 341.61 L490.53 341.61 L488.98 341.60 L487.45 341.60 L485.92 341.60 L484.40 341.59 L482.88 341.59 L481.38 341.59 L479.88 341.58 L478.39 341.58 L476.90 341.58 L475.42 341.57 L473.95 341.57 L472.49 341.57 L471.03 341.56 L469.58 341.56 L468.14 341.56 L466.70 341.55 L465.27 341.55 L463.85 341.55 L462.43 341.54 L461.03 341.54 L459.62 341.54 L458.23 341.53 L456.84 341.53 L455.46 341.53 L454.08 341.52 L452.71 341.52 L451.35 341.51 L449.99 341.51 L448.64 341.51 L447.30 341.50 L445.96 341.50 L444.63 341.50 L443.31 341.49 L441.99 341.49 L440.68 341.49 L439.38 341.48 L438.08 341.48 L436.79 341.47 L435.50 341.47 L434.22 341.47 L432.95 341.46 L431.68 341.46 L430.42 341.46 L429.16 341.45 L427.92 341.45 L426.67 341.44 L425.44 341.44 L424.20 341.44 L422.98 341.43 L421.76 341.43 L420.55 341.42 L419.34 341.42 L418.14 341.42 L416.94 341.41 L415.75 341.41 L414.57 341.40 L413.39 341.40 L412.22 341.40 L411.05 341.39 L409.89 341.39 L408.73 341.38 L407.58 341.38 L406.44 341.38 L405.30 341.37 L404.17 341.37 L403.04 341.36 L401.92 341.36 L400.80 341.35 L399.69 341.35 L398.58 341.35 L397.48 341.34 L396.39 341.34 L395.30 341.33 L394.21 341.33 L393.13 341.32 L392.06 341.32 L390.99 341.31 L389.93 341.31 L388.87 341.31 L387.82 341.30 L386.77 341.30 L385.73 341.29 L384.69 341.29 L383.66 341.28 L382.63 341.28 L381.61 341.27 L380.59 341.27 L379.58 341.26 L378.57 341.26 L377.57 341.25 L376.57 341.25 L375.58 341.24 L374.60 341.24 L373.61 341.23 L372.64 341.23 L371.66 341.22 L370.70 341.22 L369.73 341.21 L368.78 341.21 L367.82 341.21 L366.87 341.20 L365.93 341.19 L364.99 341.19 L364.06 341.18 L363.13 341.18 L362.20 341.17 L361.28 341.17 L360.37 341.16 L359.45 341.16 L358.55 341.15 L357.65 341.15 L356.75 341.14 L354.97 341.13 L353.20 341.12 L351.46 341.11 L349.73 341.10 L348.02 341.09 L346.33 341.08 L344.65 341.07 L342.99 341.06 L341.35 341.04 L339.72 341.03 L338.12 341.02 L336.52 341.01 L334.95 341.00 L333.39 340.99 L331.85 340.97 L330.32 340.96 L328.81 340.95 L327.31 340.94 L325.83 340.92 L324.37 340.91 L322.92 340.90 L321.48 340.89 L320.06 340.87 L318.66 340.86 L317.27 340.85 L315.89 340.83 L314.53 340.82 L313.19 340.81 L311.86 340.79 L310.54 340.78 L309.24 340.76 L307.95 340.75 L306.67 340.74 L305.41 340.72 L304.16 340.71 L302.93 340.69 L301.71 340.68 L300.50 340.66 L299.31 340.65 L298.13 340.63 L296.96 340.62 L295.81 340.60 L294.67 340.59 L293.54 340.57 L292.42 340.55 L291.32 340.54 L290.23 340.52 L289.15 340.51 L288.08 340.49 L287.03 340.47 L285.98 340.46 L284.95 340.44 L283.94 340.42 L282.93 340.40 L281.94 340.39 L280.95 340.37 L279.98 340.35 L279.02 340.33 L278.07 340.32 L277.14 340.30 L276.21 340.28 L275.30 340.26 L274.39 340.24 L273.50 340.22 L272.62 340.20 L271.32 340.17 L270.04 340.14 L268.79 340.11 L267.56 340.08 L266.35 340.05 L265.17 340.02 L264.01 339.99 L262.87 339.96 L261.75 339.93 L260.66 339.89 L259.59 339.86 L258.54 339.83 L257.51 339.79 L256.51 339.76 L255.52 339.72 L254.56 339.69 L253.62 339.65 L252.70 339.61 L251.80 339.58 L250.92 339.54 L249.77 339.49 L248.66 339.44 L247.59 339.38 L246.55 339.33 L245.55 339.27 L244.58 339.22 L243.64 339.16 L242.74 339.10 L241.87 339.04 L240.83 338.97 L239.83 338.89 L238.89 338.81 L238.00 338.73 L237.15 338.65 L236.20 338.54 L235.32 338.44 L234.50 338.33 L233.64 338.20 L232.86 338.07 L232.08 337.91 L231.34 337.72 L230.63 337.49 L230.03 337.17 L229.86 336.43 L230.38 335.99 L230.98 335.66 L231.63 335.38 L232.32 335.12 L233.01 334.88 L233.79 334.64 L234.52 334.43 L235.31 334.20 L236.17 333.98 L236.93 333.78 L237.73 333.59 L238.58 333.38 L239.47 333.18 L240.21 333.01 L240.98 332.83 L241.79 332.66 L242.61 332.48 L243.47 332.30 L244.36 332.11 L245.27 331.92 L246.22 331.73 L247.19 331.53 L248.19 331.33 L248.96 331.18 L249.75 331.02 L250.56 330.87 L251.38 330.71 L252.21 330.55 L253.07 330.38 L253.94 330.22 L254.83 330.05 L255.73 329.88 L256.66 329.71 L257.59 329.53 L258.55 329.36 L259.52 329.18 L260.51 328.99 L261.52 328.81 L262.55 328.62 L263.59 328.43 L264.65 328.24 L265.73 328.04 L266.82 327.84 L267.93 327.64 L269.06 327.44 L269.82 327.30 L270.59 327.16 L271.37 327.02 L272.16 326.88 L272.95 326.74 L273.76 326.59 L274.56 326.45 L275.38 326.30 L276.21 326.15 L277.04 326.00 L277.88 325.85 L278.73 325.70 L279.59 325.55 L280.45 325.39 L281.32 325.24 L282.20 325.08 L283.09 324.92 L283.99 324.76 L284.89 324.60 L285.80 324.43 L286.72 324.27 L287.65 324.10 L288.58 323.93 L289.53 323.76 L290.48 323.59 L291.43 323.42 L292.40 323.24 L293.37 323.07 L294.35 322.89 L295.34 322.71 L296.34 322.53 L297.34 322.35 L298.35 322.16 L299.37 321.97 L300.40 321.79 L301.43 321.60 L302.48 321.41 L303.52 321.21 L304.58 321.02 L305.64 320.82 L306.72 320.62 L307.79 320.42 L308.88 320.22 L309.97 320.01 L311.07 319.81 L312.18 319.60 L313.29 319.39 L314.41 319.18 L315.54 318.96 L316.67 318.75 L317.82 318.53 L318.96 318.31 L320.12 318.09 L321.28 317.86 L322.45 317.64 L323.62 317.41 L324.80 317.18 L325.99 316.95 L327.18 316.71 L328.38 316.48 L329.58 316.24 L330.79 316.00 L332.01 315.75 L333.23 315.51 L334.46 315.26 L335.69 315.01 L336.93 314.76 L338.17 314.50 L339.42 314.24 L340.68 313.98 L341.93 313.72 L343.20 313.46 L344.46 313.19 L345.74 312.92 L347.01 312.65 L348.29 312.38 L349.58 312.10 L350.87 311.82 L352.16 311.54 L353.46 311.25 L354.76 310.97 L356.06 310.68 L357.37 310.38 L358.67 310.09 L359.99 309.79 L361.30 309.49 L362.62 309.18 L363.93 308.88 L365.26 308.57 L366.58 308.26 L367.67 308.00 L368.53 307.79 L369.39 307.59 L370.24 307.38 L371.08 307.17 L371.92 306.97 L372.76 306.76 L373.59 306.56 L374.42 306.35 L375.24 306.15 L376.06 305.94 L376.87 305.74 L377.68 305.53 L378.49 305.32 L379.29 305.12 L380.08 304.91 L380.87 304.71 L381.66 304.50 L382.44 304.30 L383.22 304.09 L383.99 303.89 L384.75 303.68 L385.52 303.47 L386.28 303.27 L387.03 303.06 L387.78 302.86 L388.52 302.65 L389.26 302.45 L390.00 302.24 L390.73 302.04 L391.45 301.83 L392.18 301.62 L392.89 301.42 L393.61 301.21 L394.31 301.01 L395.02 300.80 L395.72 300.60 L396.75 300.29 L397.78 299.98 L398.80 299.67 L399.81 299.36 L400.81 299.05 L401.80 298.75 L402.78 298.44 L403.75 298.13 L404.70 297.82 L405.65 297.51 L406.59 297.20 L407.52 296.90 L408.44 296.59 L409.34 296.28 L410.24 295.97 L411.13 295.66 L412.01 295.35 L412.88 295.05 L413.74 294.74 L414.59 294.43 L415.43 294.12 L416.26 293.81 L417.08 293.50 L417.89 293.20 L418.69 292.89 L419.48 292.58 L420.26 292.27 L421.04 291.96 L421.80 291.65 L422.56 291.35 L423.30 291.04 L424.04 290.73 L424.76 290.42 L425.48 290.11 L426.19 289.80 L426.89 289.50 L427.58 289.19 L428.26 288.88 L428.93 288.57 L429.59 288.26 L430.25 287.95 L430.89 287.65 L431.53 287.34 L432.16 287.03 L432.78 286.72 L433.39 286.41 L433.99 286.10 L434.58 285.80 L435.36 285.38 L436.12 284.97 L436.87 284.56 L437.61 284.15 L438.32 283.74 L439.03 283.33 L439.72 282.92 L440.39 282.51 L441.06 282.09 L441.70 281.68 L442.34 281.27 L442.96 280.86 L443.56 280.45 L444.15 280.04 L444.73 279.63 L445.30 279.22 L445.85 278.81 L446.39 278.39 L446.91 277.98 L447.43 277.57 L447.93 277.16 L448.53 276.65 L449.12 276.13 L449.69 275.62 L450.24 275.11 L450.77 274.59 L451.28 274.08 L451.78 273.56 L452.25 273.05 L452.71 272.54 L453.15 272.02 L453.57 271.51 L453.98 270.99 L454.37 270.48 L454.81 269.86 L455.23 269.25 L455.62 268.63 L456.00 268.01 L456.35 267.40 L456.67 266.78 L456.98 266.16 L457.26 265.55 L457.57 264.83 L457.85 264.11 L458.09 263.39 L458.31 262.67 L458.51 261.95 L458.70 261.13 L458.86 260.30 L458.98 259.48 L459.07 258.66 L459.14 257.73 L459.17 256.81 L459.16 255.88 L459.11 254.96 L459.03 254.03 L458.93 253.21 L458.81 252.39 L458.65 251.57 L458.48 250.75 L458.28 249.92 L458.08 249.20 L457.87 248.48 L457.64 247.76 L457.39 247.04 L457.13 246.33 L456.85 245.61 L456.55 244.89 L456.24 244.17 L455.92 243.45 L455.62 242.83 L455.32 242.21 L455.01 241.60 L454.69 240.98 L454.36 240.36 L454.02 239.75 L453.67 239.13 L453.31 238.51 L452.94 237.90 L452.57 237.28 L452.18 236.66 L451.79 236.05 L451.38 235.43 L450.98 234.81 L450.56 234.20 L450.13 233.58 L449.70 232.96 L449.26 232.35 L448.81 231.73 L448.36 231.11 L447.90 230.50 L447.51 229.98 L447.12 229.47 L446.72 228.95 L446.32 228.44 L445.91 227.93 L445.50 227.41 L445.09 226.90 L444.67 226.38 L444.25 225.87 L443.82 225.36 L443.39 224.84 L442.96 224.33 L442.53 223.81 L442.09 223.30 L441.64 222.79 L441.20 222.27 L440.75 221.76 L440.29 221.25 L439.84 220.73 L439.38 220.22 L438.92 219.70 L438.45 219.19 L437.99 218.68 L437.52 218.16 L437.05 217.65 L436.57 217.13 L436.09 216.62 L435.61 216.11 L435.13 215.59 L434.65 215.08 L434.16 214.56 L433.67 214.05 L433.18 213.54 L432.69 213.02 L432.19 212.51 L431.70 211.99 L431.20 211.48 L430.70 210.97 L430.19 210.45 L429.69 209.94 L429.18 209.42 L428.67 208.91 L428.17 208.40 L427.66 207.88 L427.14 207.37 L426.63 206.86 L426.11 206.34 L425.60 205.83 L425.08 205.31 L424.56 204.80 L424.04 204.29 L423.52 203.77 L423.00 203.26 L422.47 202.74 L421.95 202.23 L421.42 201.72 L420.90 201.20 L420.37 200.69 L419.84 200.17 L419.31 199.66 L418.78 199.15 L418.25 198.63 L417.72 198.12 L417.19 197.60 L416.66 197.09 L416.12 196.58 L415.59 196.06 L415.06 195.55 L414.52 195.03 L413.98 194.52 L413.45 194.01 L412.91 193.49 L412.38 192.98 L411.84 192.47 L411.30 191.95 L410.76 191.44 L410.23 190.92 L409.69 190.41 L409.15 189.90 L408.61 189.38 L408.07 188.87 L407.53 188.35 L406.99 187.84 L406.45 187.33 L405.91 186.81 L405.37 186.30 L404.84 185.78 L404.30 185.27 L403.76 184.76 L403.22 184.24 L402.68 183.73 L402.14 183.21 L401.60 182.70 L401.06 182.19 L400.52 181.67 L399.98 181.16 L399.44 180.64 L398.91 180.13 L398.37 179.62 L397.83 179.10 L397.29 178.59 L396.76 178.07 L396.22 177.56 L395.68 177.05 L395.15 176.53 L394.61 176.02 L394.07 175.51 L393.54 174.99 L393.00 174.48 L392.47 173.96 L391.94 173.45 L391.40 172.94 L390.87 172.42 L390.34 171.91 L389.80 171.39 L389.27 170.88 L388.74 170.37 L388.21 169.85 L387.68 169.34 L387.15 168.82 L386.62 168.31 L386.09 167.80 L385.57 167.28 L385.04 166.77 L384.51 166.25 L383.99 165.74 L383.46 165.23 L382.94 164.71 L382.41 164.20 L381.89 163.68 L381.37 163.17 L380.85 162.66 L380.32 162.14 L379.80 161.63 L379.28 161.12 L378.76 160.60 L378.25 160.09 L377.73 159.57 L377.21 159.06 L376.69 158.55 L376.18 158.03 L375.66 157.52 L375.15 157.00 L374.64 156.49 L374.13 155.98 L373.61 155.46 L373.10 154.95 L372.59 154.43 L372.08 153.92 L371.58 153.41 L371.07 152.89 L370.56 152.38 L370.06 151.86 L369.55 151.35 L369.05 150.84 L368.54 150.32 L368.04 149.81 L367.54 149.29 L367.04 148.78 L366.54 148.27 L366.04 147.75 L365.54 147.24 L365.04 146.73 L364.55 146.21 L364.05 145.70 L363.56 145.18 L363.06 144.67 L362.57 144.16 L362.08 143.64 L361.59 143.13 L361.10 142.61 L360.61 142.10 L360.12 141.59 L359.63 141.07 L359.15 140.56 L358.66 140.04 L358.18 139.53 L357.70 139.02 L357.21 138.50 L356.73 137.99 L356.25 137.47 L355.77 136.96 L355.29 136.45 L354.81 135.93 L354.34 135.42 L353.86 134.90 L353.39 134.39 L352.91 133.88 L352.44 133.36 L351.97 132.85 L351.50 132.33 L351.03 131.82 L350.56 131.31 L350.09 130.79 L349.62 130.28 L349.16 129.77 L348.69 129.25 L348.23 128.74 L347.76 128.22 L347.30 127.71 L346.84 127.20 L346.38 126.68 L345.92 126.17 L345.46 125.65 L345.01 125.14 L344.55 124.63 L344.10 124.11 L343.64 123.60 L343.19 123.08 L342.74 122.57 L342.28 122.06 L341.83 121.54 L341.38 121.03 L340.94 120.51 L340.49 120.00 L340.04 119.49 L339.60 118.97 L339.15 118.46 L338.71 117.94 L338.27 117.43 L337.82 116.92 L337.38 116.40 L336.94 115.89 L336.51 115.38 L336.07 114.86 L335.63 114.35 L335.20 113.83 L334.76 113.32 L334.33 112.81 L333.90 112.29 L333.46 111.78 L333.03 111.26 L332.60 110.75 L332.17 110.24 L331.75 109.72 L331.32 109.21 L330.89 108.69 L330.47 108.18 L330.05 107.67 L329.62 107.15 L329.20 106.64 L328.78 106.12 L328.36 105.61 L327.94 105.10 L327.52 104.58 L327.11 104.07 L326.69 103.55 L326.28 103.04 L325.86 102.53 L325.45 102.01 L325.04 101.50 L324.62 100.98 L324.21 100.47 L323.81 99.96 L323.40 99.44 L322.99 98.93 L322.58 98.42 L322.18 97.90 L321.77 97.39 L321.37 96.87 L320.97 96.36 L320.57 95.85 L320.16 95.33 L319.76 94.82 L319.37 94.30 L318.97 93.79 L318.57 93.28 L318.18 92.76 L317.78 92.25 L317.39 91.73 L316.99 91.22 L316.60 90.71 L316.21 90.19 L315.82 89.68 L315.43 89.16 L315.04 88.65 L314.65 88.14 L314.27 87.62 L313.80 87.01 L313.34 86.39 L312.88 85.77 L312.42 85.16 L311.97 84.54 L311.51 83.92 L311.05 83.31 L310.60 82.69 L310.15 82.07 L309.70 81.46 L309.25 80.84 L308.80 80.22 L308.35 79.61 L307.91 78.99 L307.46 78.37 L307.02 77.76 L306.58 77.14 L306.13 76.52 L305.70 75.91 L305.26 75.29 L304.82 74.67 L304.38 74.05 L303.95 73.44 L303.52 72.82 L303.08 72.20 L302.65 71.59 L302.22 70.97 L301.80 70.35 L301.37 69.74 L300.94 69.12 L300.52 68.50 L300.10 67.89 L299.67 67.27 L299.25 66.65 L298.83 66.04 L298.41 65.42 L298.00 64.80 L297.58 64.19 L297.17 63.57 L296.75 62.95 L296.34 62.34 L295.93 61.72 L295.52 61.10 L295.11 60.49 L294.70 59.87 L294.29 59.25 L293.89 58.64 L293.48 58.02 L293.08 57.40 L292.68 56.79 L292.28 56.17 L291.88 55.55 L291.48 54.94 L291.08 54.32 L290.69 53.70 L290.29 53.09 L289.90 52.47 L289.51 51.85 L289.11 51.24 L288.72 50.62 L288.33 50.00 L287.95 49.39 L287.56 48.77 L287.17 48.15 L286.79 47.54 L286.40 46.92 L286.02 46.30 L285.64 45.69 L285.26 45.07 L284.88 44.45 L284.50 43.84 L284.12 43.22 L283.75 42.60 L283.37 41.99 L283.00 41.37 L282.62 40.75 L282.25 40.14 L281.88 39.52 L281.51 38.90 L281.14 38.29 L280.77 37.67 L280.41 37.05 L280.04 36.44 L279.68 35.82 L279.31 35.20 L278.95 34.58 L278.59 33.97 L278.23 33.35 L277.87 32.73 L277.51 32.12 L277.15 31.50 L276.80 30.88 L276.44 30.27 L276.09 29.65 L275.73 29.03 L275.38 28.42 L275.03 27.80 L274.68 27.18 L274.33 26.57 L273.98 25.95 L273.63 25.33 L273.28 24.72 L272.94 24.10 L272.59 23.48 L272.25 22.87 L271.91 22.25 L271.57 21.63 L271.23 21.02 L270.89 20.40 L270.55 19.78 L270.21 19.17 L269.87 18.55 L269.54 17.93 L269.20 17.32 L268.87 16.70 L268.53 16.08 L268.20 15.47 L267.87 14.85 L267.54 14.23 L267.21 13.62 L266.88 13.00 L266.55 12.38 L266.23 11.77 L265.90 11.15 L265.57 10.53 L265.25 9.92 L264.93 9.30 L264.60 8.68 L264.28 8.07 L263.96 7.45 L263.64 6.83 L263.32 6.22 L263.01 5.60 L262.69 4.98 L262.37 4.37 L262.06 3.75 L261.74 3.13 L261.43 2.52 L261.12 1.90 L260.80 1.28 L260.49 0.67 L260.18 0.05 L260.08 -0.16" stroke="#0000ff" stroke-dasharray="8.3 3.3" stroke-dashoffset="5.8"/>
<path d="M749.73 341.18 L746.98 341.18 L744.24 341.18 L741.52 341.18 L738.81 341.18 L736.11 341.17 L733.42 341.17 L730.75 341.17 L728.09 341.17 L725.44 341.17 L722.80 341.16 L720.18 341.16 L717.57 341.16 L714.97 341.16 L712.38 341.16 L709.80 341.15 L707.24 341.15 L704.69 341.15 L702.15 341.15 L699.62 341.15 L697.10 341.14 L694.60 341.14 L692.11 341.14 L689.62 341.14 L687.15 341.14 L684.70 341.13 L682.25 341.13 L679.81 341.13 L677.39 341.13 L674.98 341.13 L672.58 341.12 L670.19 341.12 L667.81 341.12 L665.44 341.12 L663.08 341.11 L660.74 341.11 L658.40 341.11 L656.08 341.11 L653.76 341.11 L651.46 341.10 L649.17 341.10 L646.89 341.10 L644.62 341.10 L642.36 341.09 L640.11 341.09 L637.87 341.09 L635.64 341.09 L633.42 341.09 L631.22 341.08 L629.02 341.08 L626.83 341.08 L624.66 341.08 L622.49 341.07 L620.33 341.07 L618.19 341.07 L616.05 341.07 L613.93 341.06 L611.81 341.06 L609.70 341.06 L607.61 341.06 L605.52 341.05 L603.44 341.05 L601.38 341.05 L599.32 341.05 L597.27 341.04 L595.23 341.04 L593.21 341.04 L591.19 341.04 L589.18 341.03 L587.18 341.03 L585.19 341.03 L583.21 341.03 L581.23 341.02 L579.27 341.02 L577.32 341.02 L575.37 341.02 L573.44 341.01 L571.51 341.01 L569.60 341.01 L567.69 341.01 L565.79 341.00 L563.90 341.00 L562.02 341.00 L560.15 341.00 L558.28 340.99 L556.43 340.99 L554.58 340.99 L552.75 340.98 L550.92 340.98 L549.10 340.98 L547.29 340.98 L545.48 340.97 L543.69 340.97 L541.90 340.97 L540.13 340.96 L538.36 340.96 L536.60 340.96 L534.84 340.96 L533.10 340.95 L531.36 340.95 L529.64 340.95 L527.92 340.94 L526.21 340.94 L524.50 340.94 L522.81 340.94 L521.12 340.93 L519.44 340.93 L517.77 340.93 L516.11 340.92 L514.45 340.92 L512.80 340.92 L511.17 340.91 L509.53 340.91 L507.91 340.91 L506.29 340.90 L504.68 340.90 L503.08 340.90 L501.49 340.90 L499.90 340.89 L498.33 340.89 L496.75 340.89 L495.19 340.88 L493.64 340.88 L492.09 340.88 L490.55 340.87 L489.01 340.87 L487.49 340.87 L485.97 340.86 L484.45 340.86 L482.95 340.86 L481.45 340.85 L479.96 340.85 L478.48 340.85 L477.00 340.84 L475.53 340.84 L474.07 340.84 L472.62 340.83 L471.17 340.83 L469.73 340.82 L468.29 340.82 L466.87 340.82 L465.44 340.81 L464.03 340.81 L462.62 340.81 L461.22 340.80 L459.83 340.80 L458.44 340.80 L457.06 340.79 L455.69 340.79 L454.32 340.79 L452.96 340.78 L451.61 340.78 L450.26 340.77 L448.92 340.77 L447.59 340.77 L446.26 340.76 L444.94 340.76 L443.62 340.76 L442.31 340.75 L441.01 340.75 L439.71 340.74 L438.42 340.74 L437.14 340.74 L435.86 340.73 L434.59 340.73 L433.33 340.72 L432.07 340.72 L430.81 340.72 L429.57 340.71 L428.33 340.71 L427.09 340.70 L425.86 340.70 L424.64 340.70 L423.42 340.69 L422.21 340.69 L421.01 340.68 L419.81 340.68 L418.61 340.68 L417.43 340.67 L416.25 340.67 L415.07 340.66 L413.90 340.66 L412.73 340.65 L411.58 340.65 L410.42 340.65 L409.28 340.64 L408.13 340.64 L407.00 340.63 L405.87 340.63 L404.74 340.62 L403.62 340.62 L402.51 340.61 L401.40 340.61 L400.30 340.61 L399.20 340.60 L398.10 340.60 L397.02 340.59 L395.94 340.59 L394.86 340.58 L393.79 340.58 L392.72 340.57 L391.66 340.57 L390.61 340.56 L389.56 340.56 L388.51 340.55 L387.47 340.55 L386.44 340.54 L385.41 340.54 L384.38 340.54 L383.37 340.53 L382.35 340.53 L381.34 340.52 L380.34 340.52 L379.34 340.51 L378.34 340.51 L377.36 340.50 L376.37 340.50 L375.39 340.49 L374.42 340.49 L373.45 340.48 L372.48 340.48 L371.52 340.47 L370.57 340.47 L369.62 340.46 L368.67 340.45 L367.73 340.45 L366.80 340.44 L365.87 340.44 L364.94 340.43 L364.02 340.43 L363.10 340.42 L362.19 340.42 L361.28 340.41 L360.38 340.41 L359.48 340.40 L357.69 340.39 L355.93 340.38 L354.18 340.37 L352.45 340.36 L350.74 340.35 L349.04 340.33 L347.36 340.32 L345.70 340.31 L344.06 340.30 L342.43 340.29 L340.82 340.28 L339.23 340.26 L337.65 340.25 L336.09 340.24 L334.55 340.23 L333.02 340.21 L331.51 340.20 L330.01 340.19 L328.53 340.18 L327.07 340.16 L325.62 340.15 L324.18 340.14 L322.77 340.12 L321.36 340.11 L319.97 340.09 L318.60 340.08 L317.24 340.07 L315.89 340.05 L314.56 340.04 L313.25 340.02 L311.95 340.01 L310.66 340.00 L309.39 339.98 L308.13 339.97 L306.88 339.95 L305.65 339.94 L304.43 339.92 L303.23 339.91 L302.04 339.89 L300.86 339.87 L299.69 339.86 L298.54 339.84 L297.40 339.83 L296.28 339.81 L295.17 339.79 L294.07 339.78 L292.98 339.76 L291.90 339.74 L290.84 339.73 L289.79 339.71 L288.75 339.69 L287.73 339.67 L286.71 339.66 L285.71 339.64 L284.72 339.62 L283.74 339.60 L282.78 339.58 L281.82 339.57 L280.88 339.55 L279.95 339.53 L279.03 339.51 L278.12 339.49 L277.22 339.47 L276.33 339.45 L275.03 339.42 L273.74 339.39 L272.48 339.36 L271.25 339.33 L270.03 339.30 L268.85 339.27 L267.68 339.23 L266.54 339.20 L265.42 339.17 L264.33 339.13 L263.25 339.10 L262.20 339.07 L261.17 339.03 L260.17 338.99 L259.18 338.96 L258.22 338.92 L257.28 338.88 L256.36 338.85 L255.46 338.81 L254.58 338.77 L253.44 338.72 L252.33 338.66 L251.26 338.61 L250.23 338.56 L249.23 338.50 L248.27 338.44 L247.34 338.38 L246.44 338.32 L245.58 338.26 L244.55 338.19 L243.57 338.11 L242.64 338.02 L241.77 337.94 L240.94 337.86 L240.01 337.75 L239.15 337.64 L238.36 337.53 L237.52 337.40 L236.68 337.24 L235.87 337.06 L235.14 336.85 L234.51 336.58 L234.04 336.15 L234.32 335.48 L234.89 335.10 L235.53 334.80 L236.25 334.51 L237.00 334.25 L237.75 334.01 L238.47 333.79 L239.24 333.57 L240.07 333.35 L240.82 333.16 L241.60 332.96 L242.43 332.76 L243.31 332.56 L244.22 332.34 L244.99 332.17 L245.78 332.00 L246.61 331.82 L247.46 331.64 L248.34 331.45 L249.25 331.26 L250.18 331.07 L251.15 330.88 L252.14 330.68 L252.91 330.53 L253.69 330.37 L254.49 330.22 L255.30 330.06 L256.13 329.90 L256.98 329.74 L257.84 329.57 L258.72 329.40 L259.62 329.23 L260.53 329.06 L261.47 328.89 L262.41 328.71 L263.38 328.53 L264.36 328.35 L265.36 328.17 L266.37 327.98 L267.41 327.79 L268.46 327.60 L269.52 327.40 L270.61 327.21 L271.71 327.01 L272.82 326.80 L273.96 326.60 L274.73 326.46 L275.50 326.32 L276.28 326.18 L277.07 326.03 L277.87 325.89 L278.67 325.74 L279.49 325.60 L280.31 325.45 L281.13 325.30 L281.97 325.15 L282.81 325.00 L283.66 324.84 L284.52 324.69 L285.39 324.53 L286.26 324.38 L287.14 324.22 L288.03 324.05 L288.93 323.89 L289.83 323.73 L290.74 323.56 L291.66 323.40 L292.59 323.23 L293.53 323.06 L294.47 322.89 L295.42 322.71 L296.37 322.54 L297.34 322.36 L298.31 322.19 L299.29 322.01 L300.28 321.82 L301.27 321.64 L302.27 321.46 L303.28 321.27 L304.30 321.08 L305.32 320.89 L306.35 320.70 L307.39 320.51 L308.44 320.31 L309.49 320.12 L310.55 319.92 L311.61 319.72 L312.69 319.51 L313.77 319.31 L314.85 319.10 L315.95 318.90 L317.05 318.69 L318.16 318.47 L319.27 318.26 L320.39 318.04 L321.52 317.83 L322.65 317.61 L323.79 317.38 L324.94 317.16 L326.09 316.93 L327.25 316.71 L328.41 316.48 L329.58 316.24 L330.76 316.01 L331.94 315.77 L333.13 315.53 L334.32 315.29 L335.52 315.05 L336.73 314.80 L337.94 314.55 L339.15 314.30 L340.37 314.05 L341.60 313.80 L342.83 313.54 L344.06 313.28 L345.30 313.02 L346.55 312.75 L347.79 312.49 L349.05 312.22 L350.30 311.95 L351.56 311.67 L352.83 311.39 L354.09 311.12 L355.37 310.83 L356.64 310.55 L357.92 310.26 L359.20 309.97 L360.48 309.68 L361.77 309.38 L363.06 309.09 L364.35 308.78 L365.64 308.48 L366.94 308.17 L368.23 307.87 L369.53 307.55 L370.60 307.29 L371.45 307.09 L372.28 306.88 L373.11 306.68 L373.94 306.47 L374.77 306.27 L375.58 306.06 L376.40 305.86 L377.21 305.65 L378.01 305.45 L378.81 305.24 L379.61 305.04 L380.40 304.83 L381.19 304.63 L381.97 304.42 L382.75 304.22 L383.52 304.01 L384.29 303.81 L385.05 303.60 L385.81 303.40 L386.57 303.19 L387.32 302.99 L388.06 302.78 L388.80 302.58 L389.54 302.37 L390.27 302.17 L391.00 301.96 L391.72 301.76 L392.44 301.55 L393.15 301.35 L393.86 301.14 L394.57 300.94 L395.27 300.73 L395.96 300.52 L397.00 300.22 L398.02 299.91 L399.03 299.60 L400.04 299.29 L401.03 298.99 L402.02 298.68 L402.99 298.37 L403.95 298.06 L404.91 297.76 L405.85 297.45 L406.79 297.14 L407.71 296.83 L408.62 296.53 L409.53 296.22 L410.42 295.91 L411.31 295.60 L412.18 295.29 L413.05 294.99 L413.90 294.68 L414.75 294.37 L415.58 294.06 L416.41 293.76 L417.23 293.45 L418.03 293.14 L418.83 292.83 L419.62 292.53 L420.40 292.22 L421.17 291.91 L421.93 291.60 L422.68 291.30 L423.42 290.99 L424.15 290.68 L424.88 290.37 L425.59 290.06 L426.30 289.76 L426.99 289.45 L427.68 289.14 L428.36 288.83 L429.03 288.53 L429.69 288.22 L430.34 287.91 L430.98 287.60 L431.62 287.30 L432.24 286.99 L432.86 286.68 L433.47 286.37 L434.06 286.07 L434.85 285.65 L435.62 285.24 L436.38 284.83 L437.12 284.42 L437.85 284.01 L438.56 283.60 L439.26 283.19 L439.94 282.78 L440.61 282.37 L441.27 281.96 L441.91 281.55 L442.53 281.14 L443.15 280.73 L443.75 280.32 L444.33 279.91 L444.91 279.50 L445.47 279.09 L446.01 278.68 L446.55 278.27 L447.07 277.86 L447.58 277.45 L448.07 277.04 L448.67 276.53 L449.26 276.01 L449.82 275.50 L450.36 274.99 L450.89 274.48 L451.39 273.96 L451.88 273.45 L452.35 272.94 L452.81 272.43 L453.24 271.91 L453.66 271.40 L454.06 270.89 L454.52 270.27 L454.95 269.66 L455.36 269.04 L455.75 268.43 L456.11 267.81 L456.46 267.20 L456.78 266.58 L457.07 265.96 L457.39 265.25 L457.69 264.53 L457.95 263.81 L458.19 263.09 L458.40 262.38 L458.58 261.66 L458.76 260.84 L458.90 260.02 L459.01 259.20 L459.10 258.38 L459.15 257.45 L459.17 256.53 L459.15 255.61 L459.09 254.68 L459.00 253.76 L458.89 252.94 L458.76 252.12 L458.60 251.30 L458.41 250.48 L458.21 249.66 L458.00 248.94 L457.79 248.22 L457.55 247.51 L457.30 246.79 L457.03 246.07 L456.74 245.35 L456.44 244.63 L456.13 243.92 L455.80 243.20 L455.51 242.58 L455.20 241.97 L454.89 241.35 L454.56 240.74 L454.23 240.12 L453.88 239.51 L453.53 238.89 L453.17 238.28 L452.80 237.66 L452.42 237.05 L452.03 236.43 L451.64 235.81 L451.23 235.20 L450.82 234.58 L450.40 233.97 L449.97 233.35 L449.54 232.74 L449.10 232.12 L448.65 231.51 L448.20 230.89 L447.73 230.28 L447.34 229.76 L446.95 229.25 L446.55 228.74 L446.15 228.23 L445.74 227.71 L445.33 227.20 L444.92 226.69 L444.50 226.17 L444.08 225.66 L443.65 225.15 L443.22 224.64 L442.79 224.12 L442.35 223.61 L441.91 223.10 L441.47 222.59 L441.02 222.07 L440.57 221.56 L440.12 221.05 L439.66 220.53 L439.21 220.02 L438.74 219.51 L438.28 219.00 L437.81 218.48 L437.34 217.97 L436.87 217.46 L436.40 216.95 L435.92 216.43 L435.44 215.92 L434.96 215.41 L434.47 214.89 L433.99 214.38 L433.50 213.87 L433.01 213.36 L432.51 212.84 L432.02 212.33 L431.52 211.82 L431.03 211.30 L430.52 210.79 L430.02 210.28 L429.52 209.77 L429.01 209.25 L428.51 208.74 L428.00 208.23 L427.49 207.72 L426.98 207.20 L426.46 206.69 L425.95 206.18 L425.43 205.66 L424.92 205.15 L424.40 204.64 L423.88 204.13 L423.36 203.61 L422.84 203.10 L422.32 202.59 L421.79 202.08 L421.27 201.56 L420.74 201.05 L420.22 200.54 L419.69 200.02 L419.16 199.51 L418.63 199.00 L418.10 198.49 L417.57 197.97 L417.04 197.46 L416.51 196.95 L415.98 196.43 L415.44 195.92 L414.91 195.41 L414.38 194.90 L413.84 194.38 L413.31 193.87 L412.77 193.36 L412.24 192.85 L411.70 192.33 L411.16 191.82 L410.63 191.31 L410.09 190.79 L409.55 190.28 L409.02 189.77 L408.48 189.26 L407.94 188.74 L407.40 188.23 L406.86 187.72 L406.33 187.21 L405.79 186.69 L405.25 186.18 L404.71 185.67 L404.17 185.15 L403.64 184.64 L403.10 184.13 L402.56 183.62 L402.02 183.10 L401.48 182.59 L400.95 182.08 L400.41 181.56 L399.87 181.05 L399.33 180.54 L398.80 180.03 L398.26 179.51 L397.72 179.00 L397.19 178.49 L396.65 177.98 L396.12 177.46 L395.58 176.95 L395.05 176.44 L394.51 175.92 L393.98 175.41 L393.44 174.90 L392.91 174.39 L392.38 173.87 L391.84 173.36 L391.31 172.85 L390.78 172.34 L390.25 171.82 L389.72 171.31 L389.19 170.80 L388.66 170.28 L388.13 169.77 L387.60 169.26 L387.07 168.75 L386.54 168.23 L386.02 167.72 L385.49 167.21 L384.96 166.69 L384.44 166.18 L383.91 165.67 L383.39 165.16 L382.87 164.64 L382.34 164.13 L381.82 163.62 L381.30 163.11 L380.78 162.59 L380.26 162.08 L379.74 161.57 L379.22 161.05 L378.70 160.54 L378.19 160.03 L377.67 159.52 L377.15 159.00 L376.64 158.49 L376.13 157.98 L375.61 157.47 L375.10 156.95 L374.59 156.44 L374.08 155.93 L373.57 155.41 L373.06 154.90 L372.55 154.39 L372.04 153.88 L371.53 153.36 L371.03 152.85 L370.52 152.34 L370.02 151.82 L369.51 151.31 L369.01 150.80 L368.51 150.29 L368.01 149.77 L367.51 149.26 L367.01 148.75 L366.51 148.24 L366.01 147.72 L365.51 147.21 L365.02 146.70 L364.52 146.18 L364.03 145.67 L363.53 145.16 L363.04 144.65 L362.55 144.13 L362.06 143.62 L361.57 143.11 L361.08 142.60 L360.59 142.08 L360.11 141.57 L359.62 141.06 L359.14 140.54 L358.65 140.03 L358.17 139.52 L357.69 139.01 L357.20 138.49 L356.72 137.98 L356.24 137.47 L355.77 136.95 L355.29 136.44 L354.81 135.93 L354.34 135.42 L353.86 134.90 L353.39 134.39 L352.91 133.88 L352.44 133.37 L351.97 132.85 L351.50 132.34 L351.03 131.83 L350.57 131.31 L350.10 130.80 L349.63 130.29 L349.17 129.78 L348.70 129.26 L348.24 128.75 L347.78 128.24 L347.32 127.73 L346.86 127.21 L346.40 126.70 L345.94 126.19 L345.48 125.67 L345.03 125.16 L344.57 124.65 L344.12 124.14 L343.66 123.62 L343.21 123.11 L342.76 122.60 L342.31 122.08 L341.86 121.57 L341.41 121.06 L340.96 120.55 L340.52 120.03 L340.07 119.52 L339.63 119.01 L339.18 118.50 L338.74 117.98 L338.30 117.47 L337.86 116.96 L337.42 116.44 L336.98 115.93 L336.54 115.42 L336.11 114.91 L335.67 114.39 L335.24 113.88 L334.80 113.37 L334.37 112.86 L333.94 112.34 L333.51 111.83 L333.08 111.32 L332.65 110.80 L332.22 110.29 L331.79 109.78 L331.37 109.27 L330.94 108.75 L330.52 108.24 L330.10 107.73 L329.67 107.21 L329.25 106.70 L328.83 106.19 L328.41 105.68 L328.00 105.16 L327.58 104.65 L327.16 104.14 L326.75 103.63 L326.33 103.11 L325.92 102.60 L325.51 102.09 L325.10 101.57 L324.69 101.06 L324.28 100.55 L323.87 100.04 L323.46 99.52 L323.05 99.01 L322.65 98.50 L322.24 97.99 L321.84 97.47 L321.44 96.96 L321.04 96.45 L320.63 95.93 L320.23 95.42 L319.84 94.91 L319.44 94.40 L319.04 93.88 L318.64 93.37 L318.25 92.86 L317.85 92.34 L317.46 91.83 L317.07 91.32 L316.68 90.81 L316.29 90.29 L315.90 89.78 L315.51 89.27 L315.12 88.76 L314.66 88.14 L314.19 87.52 L313.73 86.91 L313.27 86.29 L312.81 85.68 L312.35 85.06 L311.90 84.45 L311.44 83.83 L310.99 83.22 L310.54 82.60 L310.09 81.99 L309.64 81.37 L309.19 80.76 L308.74 80.14 L308.29 79.53 L307.85 78.91 L307.41 78.30 L306.96 77.68 L306.52 77.06 L306.08 76.45 L305.64 75.83 L305.21 75.22 L304.77 74.60 L304.34 73.99 L303.90 73.37 L303.47 72.76 L303.04 72.14 L302.61 71.53 L302.18 70.91 L301.76 70.30 L301.33 69.68 L300.90 69.07 L300.48 68.45 L300.06 67.83 L299.64 67.22 L299.22 66.60 L298.80 65.99 L298.38 65.37 L297.97 64.76 L297.55 64.14 L297.14 63.53 L296.72 62.91 L296.31 62.30 L295.90 61.68 L295.49 61.07 L295.09 60.45 L294.68 59.84 L294.27 59.22 L293.87 58.61 L293.46 57.99 L293.06 57.37 L292.66 56.76 L292.26 56.14 L291.86 55.53 L291.47 54.91 L291.07 54.30 L290.67 53.68 L290.28 53.07 L289.89 52.45 L289.49 51.84 L289.10 51.22 L288.71 50.61 L288.33 49.99 L287.94 49.38 L287.55 48.76 L287.17 48.14 L286.78 47.53 L286.40 46.91 L286.02 46.30 L285.64 45.68 L285.26 45.07 L284.88 44.45 L284.50 43.84 L284.12 43.22 L283.75 42.61 L283.37 41.99 L283.00 41.38 L282.63 40.76 L282.26 40.15 L281.89 39.53 L281.52 38.92 L281.15 38.30 L280.78 37.68 L280.42 37.07 L280.05 36.45 L279.69 35.84 L279.33 35.22 L278.96 34.61 L278.60 33.99 L278.24 33.38 L277.88 32.76 L277.53 32.15 L277.17 31.53 L276.81 30.92 L276.46 30.30 L276.11 29.69 L275.75 29.07 L275.40 28.45 L275.05 27.84 L274.70 27.22 L274.35 26.61 L274.00 25.99 L273.66 25.38 L273.31 24.76 L272.97 24.15 L272.62 23.53 L272.28 22.92 L271.94 22.30 L271.60 21.69 L271.26 21.07 L270.92 20.46 L270.58 19.84 L270.24 19.23 L269.90 18.61 L269.57 17.99 L269.23 17.38 L268.90 16.76 L268.57 16.15 L268.24 15.53 L267.91 14.92 L267.58 14.30 L267.25 13.69 L266.92 13.07 L266.59 12.46 L266.27 11.84 L265.94 11.23 L265.62 10.61 L265.29 10.00 L264.97 9.38 L264.65 8.77 L264.33 8.15 L264.01 7.53 L263.69 6.92 L263.37 6.30 L263.05 5.69 L262.73 5.07 L262.42 4.46 L262.10 3.84 L261.79 3.23 L261.48 2.61 L261.17 2.00 L260.85 1.38 L260.54 0.77 L260.23 0.15 L260.08 -0.16" stroke="#00ff00" stroke-dasharray="8.3 3.3" stroke-dashoffset="0"/>
<path d="M748.44 340.28 L745.70 340.28 L742.99 340.27 L740.28 340.27 L737.59 340.27 L734.91 340.27 L732.24 340.27 L729.58 340.26 L726.94 340.26 L724.31 340.26 L721.69 340.26 L719.08 340.26 L716.48 340.25 L713.90 340.25 L711.33 340.25 L708.77 340.25 L706.23 340.24 L703.69 340.24 L701.17 340.24 L698.66 340.24 L696.16 340.24 L693.67 340.23 L691.19 340.23 L688.73 340.23 L686.27 340.23 L683.83 340.23 L681.40 340.22 L678.98 340.22 L676.58 340.22 L674.18 340.22 L671.79 340.21 L669.42 340.21 L667.06 340.21 L664.71 340.21 L662.36 340.20 L660.03 340.20 L657.72 340.20 L655.41 340.20 L653.11 340.20 L650.82 340.19 L648.55 340.19 L646.28 340.19 L644.03 340.19 L641.78 340.18 L639.55 340.18 L637.33 340.18 L635.11 340.18 L632.91 340.17 L630.72 340.17 L628.54 340.17 L626.37 340.17 L624.20 340.16 L622.05 340.16 L619.91 340.16 L617.78 340.16 L615.66 340.15 L613.55 340.15 L611.45 340.15 L609.36 340.15 L607.27 340.14 L605.20 340.14 L603.14 340.14 L601.09 340.13 L599.05 340.13 L597.01 340.13 L594.99 340.13 L592.98 340.12 L590.97 340.12 L588.98 340.12 L586.99 340.12 L585.01 340.11 L583.05 340.11 L581.09 340.11 L579.14 340.10 L577.20 340.10 L575.27 340.10 L573.35 340.10 L571.44 340.09 L569.54 340.09 L567.64 340.09 L565.76 340.08 L563.88 340.08 L562.01 340.08 L560.15 340.08 L558.30 340.07 L556.46 340.07 L554.63 340.07 L552.81 340.06 L550.99 340.06 L549.19 340.06 L547.39 340.06 L545.60 340.05 L543.82 340.05 L542.05 340.05 L540.28 340.04 L538.53 340.04 L536.78 340.04 L535.04 340.03 L533.31 340.03 L531.59 340.03 L529.87 340.02 L528.16 340.02 L526.47 340.02 L524.78 340.01 L523.09 340.01 L521.42 340.01 L519.75 340.01 L518.10 340.00 L516.45 340.00 L514.80 340.00 L513.17 339.99 L511.54 339.99 L509.92 339.99 L508.31 339.98 L506.71 339.98 L505.11 339.98 L503.52 339.97 L501.94 339.97 L500.37 339.96 L498.80 339.96 L497.24 339.96 L495.69 339.95 L494.15 339.95 L492.61 339.95 L491.08 339.94 L489.56 339.94 L488.05 339.94 L486.54 339.93 L485.04 339.93 L483.55 339.93 L482.06 339.92 L480.58 339.92 L479.11 339.92 L477.65 339.91 L476.19 339.91 L474.74 339.90 L473.30 339.90 L471.86 339.90 L470.43 339.89 L469.01 339.89 L467.59 339.89 L466.19 339.88 L464.78 339.88 L463.39 339.87 L462.00 339.87 L460.62 339.87 L459.24 339.86 L457.87 339.86 L456.51 339.85 L455.16 339.85 L453.81 339.85 L452.47 339.84 L451.13 339.84 L449.80 339.83 L448.48 339.83 L447.16 339.83 L445.85 339.82 L444.55 339.82 L443.25 339.81 L441.96 339.81 L440.67 339.81 L439.40 339.80 L438.12 339.80 L436.86 339.79 L435.60 339.79 L434.34 339.78 L433.10 339.78 L431.85 339.78 L430.62 339.77 L429.39 339.77 L428.16 339.76 L426.95 339.76 L425.73 339.75 L424.53 339.75 L423.33 339.75 L422.14 339.74 L420.95 339.74 L419.76 339.73 L418.59 339.73 L417.42 339.72 L416.25 339.72 L415.09 339.71 L413.94 339.71 L412.79 339.70 L411.65 339.70 L410.51 339.69 L409.38 339.69 L408.26 339.69 L407.14 339.68 L406.02 339.68 L404.91 339.67 L403.81 339.67 L402.71 339.66 L401.62 339.66 L400.53 339.65 L399.45 339.65 L398.37 339.64 L397.30 339.64 L396.24 339.63 L395.18 339.63 L394.12 339.62 L393.07 339.62 L392.03 339.61 L390.99 339.61 L389.95 339.60 L388.92 339.60 L387.90 339.59 L386.88 339.59 L385.87 339.58 L384.86 339.58 L383.86 339.57 L382.86 339.57 L381.86 339.56 L380.87 339.55 L379.89 339.55 L378.91 339.54 L377.94 339.54 L376.97 339.53 L376.01 339.53 L375.05 339.52 L374.09 339.52 L373.14 339.51 L372.20 339.51 L371.26 339.50 L370.32 339.49 L369.39 339.49 L368.47 339.48 L367.55 339.48 L366.63 339.47 L365.72 339.47 L364.81 339.46 L363.91 339.45 L363.01 339.45 L361.23 339.44 L359.47 339.43 L357.72 339.41 L356.00 339.40 L354.29 339.39 L352.59 339.38 L350.92 339.36 L349.26 339.35 L347.62 339.34 L346.00 339.33 L344.39 339.31 L342.81 339.30 L341.23 339.29 L339.68 339.27 L338.14 339.26 L336.61 339.25 L335.11 339.23 L333.61 339.22 L332.14 339.21 L330.68 339.19 L329.24 339.18 L327.81 339.17 L326.39 339.15 L324.99 339.14 L323.61 339.12 L322.24 339.11 L320.89 339.09 L319.55 339.08 L318.23 339.06 L316.92 339.05 L315.62 339.03 L314.34 339.02 L313.08 339.00 L311.83 338.98 L310.59 338.97 L309.36 338.95 L308.15 338.94 L306.96 338.92 L305.77 338.90 L304.60 338.89 L303.45 338.87 L302.30 338.85 L301.17 338.83 L300.05 338.82 L298.95 338.80 L297.86 338.78 L296.78 338.76 L295.71 338.75 L294.66 338.73 L293.62 338.71 L292.59 338.69 L291.58 338.67 L290.57 338.65 L289.58 338.63 L288.60 338.62 L287.63 338.60 L286.68 338.58 L285.73 338.56 L284.80 338.54 L283.88 338.52 L282.97 338.50 L282.07 338.48 L281.19 338.46 L279.88 338.42 L278.60 338.39 L277.34 338.36 L276.11 338.33 L274.90 338.29 L273.71 338.26 L272.55 338.23 L271.42 338.19 L270.30 338.16 L269.21 338.12 L268.15 338.08 L267.10 338.05 L266.08 338.01 L265.08 337.97 L264.11 337.94 L263.15 337.90 L262.22 337.86 L261.31 337.82 L260.42 337.78 L259.55 337.74 L258.43 337.68 L257.34 337.62 L256.29 337.57 L255.27 337.51 L254.30 337.45 L253.35 337.39 L252.45 337.33 L251.57 337.26 L250.73 337.20 L249.73 337.12 L248.79 337.03 L247.89 336.95 L247.05 336.86 L246.11 336.75 L245.23 336.64 L244.43 336.53 L243.59 336.39 L242.74 336.23 L241.94 336.04 L241.22 335.82 L240.57 335.52 L240.17 334.99 L240.54 334.44 L241.09 334.08 L241.75 333.77 L242.41 333.51 L243.08 333.27 L243.83 333.03 L244.54 332.81 L245.32 332.59 L246.16 332.36 L246.91 332.17 L247.70 331.97 L248.54 331.76 L249.42 331.56 L250.15 331.39 L250.92 331.21 L251.71 331.04 L252.54 330.86 L253.39 330.67 L254.27 330.49 L255.18 330.30 L256.12 330.10 L257.08 329.90 L258.08 329.70 L258.85 329.55 L259.63 329.39 L260.43 329.24 L261.25 329.08 L262.08 328.92 L262.93 328.75 L263.79 328.59 L264.67 328.42 L265.57 328.25 L266.49 328.07 L267.42 327.90 L268.37 327.72 L269.33 327.54 L270.32 327.35 L271.32 327.17 L272.33 326.98 L273.36 326.79 L274.41 326.59 L275.48 326.40 L276.56 326.20 L277.66 326.00 L278.78 325.79 L279.92 325.58 L280.68 325.44 L281.45 325.30 L282.23 325.16 L283.02 325.02 L283.82 324.87 L284.62 324.72 L285.43 324.58 L286.25 324.43 L287.08 324.28 L287.91 324.12 L288.75 323.97 L289.60 323.82 L290.45 323.66 L291.32 323.50 L292.19 323.34 L293.07 323.18 L293.95 323.02 L294.84 322.86 L295.74 322.69 L296.65 322.52 L297.57 322.35 L298.49 322.18 L299.42 322.01 L300.36 321.84 L301.30 321.67 L302.25 321.49 L303.21 321.31 L304.18 321.13 L305.15 320.95 L306.13 320.77 L307.12 320.58 L308.11 320.40 L309.12 320.21 L310.12 320.02 L311.14 319.83 L312.16 319.63 L313.19 319.44 L314.23 319.24 L315.27 319.04 L316.32 318.84 L317.38 318.64 L318.44 318.44 L319.51 318.23 L320.59 318.02 L321.67 317.81 L322.76 317.60 L323.86 317.39 L324.96 317.17 L326.07 316.95 L327.18 316.73 L328.30 316.51 L329.43 316.29 L330.56 316.06 L331.70 315.83 L332.85 315.60 L334.00 315.37 L335.15 315.13 L336.31 314.90 L337.48 314.66 L338.65 314.42 L339.83 314.17 L341.01 313.93 L342.20 313.68 L343.39 313.43 L344.59 313.18 L345.79 312.92 L346.99 312.67 L348.20 312.41 L349.42 312.14 L350.64 311.88 L351.86 311.61 L353.09 311.34 L354.32 311.07 L355.55 310.80 L356.79 310.52 L358.03 310.24 L359.28 309.96 L360.52 309.67 L361.77 309.39 L363.03 309.10 L364.28 308.80 L365.54 308.51 L366.80 308.21 L368.06 307.91 L369.33 307.61 L370.59 307.30 L371.86 306.99 L373.13 306.68 L374.17 306.42 L374.99 306.22 L375.81 306.01 L376.62 305.81 L377.42 305.60 L378.22 305.40 L379.02 305.19 L379.81 304.99 L380.60 304.78 L381.38 304.58 L382.16 304.37 L382.94 304.17 L383.71 303.97 L384.47 303.76 L385.23 303.56 L385.99 303.35 L386.74 303.15 L387.48 302.94 L388.23 302.74 L388.96 302.53 L389.70 302.33 L390.43 302.12 L391.15 301.92 L391.87 301.72 L392.58 301.51 L393.29 301.31 L394.00 301.10 L394.70 300.90 L395.40 300.69 L396.44 300.39 L397.46 300.08 L398.48 299.77 L399.49 299.47 L400.48 299.16 L401.47 298.85 L402.45 298.55 L403.41 298.24 L404.37 297.93 L405.32 297.63 L406.25 297.32 L407.18 297.01 L408.10 296.70 L409.00 296.40 L409.90 296.09 L410.79 295.78 L411.67 295.48 L412.53 295.17 L413.39 294.86 L414.24 294.56 L415.08 294.25 L415.91 293.94 L416.73 293.64 L417.54 293.33 L418.34 293.02 L419.13 292.72 L419.92 292.41 L420.69 292.10 L421.45 291.80 L422.21 291.49 L422.95 291.18 L423.69 290.88 L424.42 290.57 L425.14 290.26 L425.84 289.96 L426.54 289.65 L427.23 289.34 L427.92 289.04 L428.59 288.73 L429.25 288.42 L429.91 288.12 L430.56 287.81 L431.19 287.50 L431.82 287.19 L432.44 286.89 L433.06 286.58 L433.66 286.27 L434.25 285.97 L435.03 285.56 L435.80 285.15 L436.55 284.74 L437.29 284.33 L438.01 283.92 L438.72 283.51 L439.41 283.10 L440.09 282.70 L440.75 282.29 L441.40 281.88 L442.04 281.47 L442.66 281.06 L443.27 280.65 L443.87 280.24 L444.45 279.83 L445.02 279.42 L445.57 279.01 L446.12 278.60 L446.65 278.20 L447.16 277.79 L447.67 277.38 L448.16 276.97 L448.76 276.46 L449.33 275.95 L449.89 275.43 L450.43 274.92 L450.95 274.41 L451.46 273.90 L451.94 273.39 L452.41 272.88 L452.86 272.37 L453.29 271.86 L453.70 271.34 L454.10 270.83 L454.56 270.22 L454.99 269.61 L455.39 268.99 L455.78 268.38 L456.14 267.77 L456.48 267.15 L456.80 266.54 L457.09 265.92 L457.41 265.21 L457.70 264.49 L457.96 263.78 L458.20 263.06 L458.41 262.35 L458.61 261.53 L458.78 260.71 L458.92 259.89 L459.03 259.07 L459.11 258.15 L459.16 257.23 L459.17 256.31 L459.14 255.39 L459.07 254.47 L458.99 253.65 L458.88 252.84 L458.74 252.02 L458.58 251.20 L458.39 250.38 L458.18 249.56 L457.98 248.85 L457.76 248.13 L457.52 247.42 L457.27 246.70 L457.00 245.98 L456.71 245.27 L456.41 244.55 L456.09 243.84 L455.76 243.12 L455.47 242.51 L455.16 241.89 L454.85 241.28 L454.52 240.67 L454.19 240.05 L453.85 239.44 L453.49 238.83 L453.13 238.21 L452.76 237.60 L452.38 236.98 L451.99 236.37 L451.60 235.76 L451.20 235.14 L450.78 234.53 L450.37 233.92 L449.94 233.30 L449.51 232.69 L449.07 232.08 L448.62 231.46 L448.16 230.85 L447.70 230.24 L447.31 229.72 L446.92 229.21 L446.52 228.70 L446.12 228.19 L445.72 227.68 L445.31 227.17 L444.89 226.66 L444.47 226.15 L444.05 225.63 L443.63 225.12 L443.20 224.61 L442.77 224.10 L442.33 223.59 L441.89 223.08 L441.45 222.57 L441.01 222.05 L440.56 221.54 L440.11 221.03 L439.65 220.52 L439.19 220.01 L438.73 219.50 L438.27 218.99 L437.81 218.48 L437.34 217.96 L436.87 217.45 L436.39 216.94 L435.92 216.43 L435.44 215.92 L434.96 215.41 L434.48 214.90 L433.99 214.39 L433.50 213.87 L433.01 213.36 L432.52 212.85 L432.03 212.34 L431.53 211.83 L431.04 211.32 L430.54 210.81 L430.04 210.29 L429.54 209.78 L429.03 209.27 L428.53 208.76 L428.02 208.25 L427.51 207.74 L427.00 207.23 L426.49 206.72 L425.98 206.20 L425.46 205.69 L424.95 205.18 L424.43 204.67 L423.91 204.16 L423.39 203.65 L422.87 203.14 L422.35 202.63 L421.83 202.11 L421.31 201.60 L420.78 201.09 L420.26 200.58 L419.73 200.07 L419.21 199.56 L418.68 199.05 L418.15 198.53 L417.62 198.02 L417.09 197.51 L416.56 197.00 L416.03 196.49 L415.50 195.98 L414.97 195.47 L414.44 194.96 L413.91 194.44 L413.37 193.93 L412.84 193.42 L412.30 192.91 L411.77 192.40 L411.24 191.89 L410.70 191.38 L410.16 190.87 L409.63 190.35 L409.09 189.84 L408.56 189.33 L408.02 188.82 L407.48 188.31 L406.95 187.80 L406.41 187.29 L405.88 186.77 L405.34 186.26 L404.80 185.75 L404.27 185.24 L403.73 184.73 L403.19 184.22 L402.66 183.71 L402.12 183.20 L401.58 182.68 L401.05 182.17 L400.51 181.66 L399.97 181.15 L399.44 180.64 L398.90 180.13 L398.37 179.62 L397.83 179.11 L397.30 178.59 L396.76 178.08 L396.23 177.57 L395.70 177.06 L395.16 176.55 L394.63 176.04 L394.10 175.53 L393.56 175.02 L393.03 174.50 L392.50 173.99 L391.97 173.48 L391.44 172.97 L390.91 172.46 L390.38 171.95 L389.85 171.44 L389.32 170.92 L388.79 170.41 L388.26 169.90 L387.74 169.39 L387.21 168.88 L386.68 168.37 L386.16 167.86 L385.63 167.35 L385.11 166.83 L384.58 166.32 L384.06 165.81 L383.54 165.30 L383.02 164.79 L382.49 164.28 L381.97 163.77 L381.45 163.26 L380.93 162.74 L380.41 162.23 L379.90 161.72 L379.38 161.21 L378.86 160.70 L378.35 160.19 L377.83 159.68 L377.32 159.16 L376.80 158.65 L376.29 158.14 L375.78 157.63 L375.27 157.12 L374.76 156.61 L374.25 156.10 L373.74 155.59 L373.23 155.07 L372.72 154.56 L372.21 154.05 L371.71 153.54 L371.20 153.03 L370.70 152.52 L370.19 152.01 L369.69 151.50 L369.19 150.98 L368.69 150.47 L368.19 149.96 L367.69 149.45 L367.19 148.94 L366.69 148.43 L366.20 147.92 L365.70 147.40 L365.21 146.89 L364.71 146.38 L364.22 145.87 L363.73 145.36 L363.24 144.85 L362.75 144.34 L362.26 143.83 L361.77 143.31 L361.28 142.80 L360.79 142.29 L360.31 141.78 L359.82 141.27 L359.34 140.76 L358.85 140.25 L358.37 139.74 L357.89 139.22 L357.41 138.71 L356.93 138.20 L356.45 137.69 L355.97 137.18 L355.50 136.67 L355.02 136.16 L354.55 135.64 L354.07 135.13 L353.60 134.62 L353.13 134.11 L352.66 133.60 L352.19 133.09 L351.72 132.58 L351.25 132.07 L350.78 131.55 L350.32 131.04 L349.85 130.53 L349.39 130.02 L348.93 129.51 L348.46 129.00 L348.00 128.49 L347.54 127.98 L347.08 127.46 L346.62 126.95 L346.17 126.44 L345.71 125.93 L345.25 125.42 L344.80 124.91 L344.35 124.40 L343.89 123.88 L343.44 123.37 L342.99 122.86 L342.54 122.35 L342.09 121.84 L341.65 121.33 L341.20 120.82 L340.75 120.31 L340.31 119.79 L339.87 119.28 L339.42 118.77 L338.98 118.26 L338.54 117.75 L338.10 117.24 L337.66 116.73 L337.22 116.22 L336.79 115.70 L336.35 115.19 L335.92 114.68 L335.48 114.17 L335.05 113.66 L334.62 113.15 L334.19 112.64 L333.76 112.12 L333.33 111.61 L332.90 111.10 L332.47 110.59 L332.04 110.08 L331.62 109.57 L331.20 109.06 L330.77 108.55 L330.35 108.03 L329.93 107.52 L329.51 107.01 L329.09 106.50 L328.67 105.99 L328.25 105.48 L327.84 104.97 L327.42 104.46 L327.01 103.94 L326.59 103.43 L326.18 102.92 L325.77 102.41 L325.36 101.90 L324.95 101.39 L324.54 100.88 L324.13 100.36 L323.72 99.85 L323.32 99.34 L322.91 98.83 L322.51 98.32 L322.10 97.81 L321.70 97.30 L321.30 96.79 L320.90 96.27 L320.50 95.76 L320.10 95.25 L319.70 94.74 L319.31 94.23 L318.91 93.72 L318.52 93.21 L318.12 92.70 L317.73 92.18 L317.34 91.67 L316.95 91.16 L316.56 90.65 L316.17 90.14 L315.70 89.53 L315.24 88.91 L314.77 88.30 L314.31 87.68 L313.85 87.07 L313.39 86.46 L312.93 85.84 L312.48 85.23 L312.02 84.62 L311.57 84.00 L311.12 83.39 L310.66 82.78 L310.21 82.16 L309.77 81.55 L309.32 80.94 L308.87 80.32 L308.43 79.71 L307.98 79.09 L307.54 78.48 L307.10 77.87 L306.66 77.25 L306.22 76.64 L305.78 76.03 L305.35 75.41 L304.91 74.80 L304.48 74.19 L304.04 73.57 L303.61 72.96 L303.18 72.35 L302.75 71.73 L302.33 71.12 L301.90 70.50 L301.48 69.89 L301.05 69.28 L300.63 68.66 L300.21 68.05 L299.79 67.44 L299.37 66.82 L298.95 66.21 L298.53 65.60 L298.12 64.98 L297.70 64.37 L297.29 63.76 L296.88 63.14 L296.47 62.53 L296.06 61.92 L295.65 61.30 L295.24 60.69 L294.84 60.07 L294.43 59.46 L294.03 58.85 L293.62 58.23 L293.22 57.62 L292.82 57.01 L292.42 56.39 L292.03 55.78 L291.63 55.17 L291.23 54.55 L290.84 53.94 L290.44 53.33 L290.05 52.71 L289.66 52.10 L289.27 51.48 L288.88 50.87 L288.49 50.26 L288.11 49.64 L287.72 49.03 L287.34 48.42 L286.95 47.80 L286.57 47.19 L286.19 46.58 L285.81 45.96 L285.43 45.35 L285.05 44.74 L284.67 44.12 L284.30 43.51 L283.92 42.89 L283.55 42.28 L283.18 41.67 L282.81 41.05 L282.44 40.44 L282.07 39.83 L281.70 39.21 L281.33 38.60 L280.96 37.99 L280.60 37.37 L280.23 36.76 L279.87 36.15 L279.51 35.53 L279.15 34.92 L278.79 34.30 L278.43 33.69 L278.07 33.08 L277.71 32.46 L277.35 31.85 L277.00 31.24 L276.64 30.62 L276.29 30.01 L275.94 29.40 L275.59 28.78 L275.24 28.17 L274.89 27.56 L274.54 26.94 L274.19 26.33 L273.85 25.71 L273.50 25.10 L273.16 24.49 L272.81 23.87 L272.47 23.26 L272.13 22.65 L271.79 22.03 L271.45 21.42 L271.11 20.81 L270.77 20.19 L270.43 19.58 L270.10 18.97 L269.76 18.35 L269.43 17.74 L269.10 17.13 L268.76 16.51 L268.43 15.90 L268.10 15.28 L267.77 14.67 L267.44 14.06 L267.12 13.44 L266.79 12.83 L266.46 12.22 L266.14 11.60 L265.81 10.99 L265.49 10.38 L265.17 9.76 L264.85 9.15 L264.53 8.54 L264.21 7.92 L263.89 7.31 L263.57 6.69 L263.25 6.08 L262.94 5.47 L262.62 4.85 L262.31 4.24 L261.99 3.63 L261.68 3.01 L261.37 2.40 L261.06 1.79 L260.75 1.17 L260.44 0.56 L260.13 -0.05 L260.08 -0.16" stroke="#ff7f00" stroke-dasharray="4.1 3.2" stroke-dashoffset="0"/>
</g>
<rect x="54.50" y="10.10" width="682.80" height="341.90" fill="none" stroke="#6b6b6b" stroke-width="1"/>
<path d="M54.70 352.00 v-7.00 M54.70 10.10 v7.00 M77.44 352.00 v-4.00 M77.44 10.10 v4.00 M100.18 352.00 v-4.00 M100.18 10.10 v4.00 M122.92 352.00 v-4.00 M122.92 10.10 v4.00 M145.66 352.00 v-4.00 M145.66 10.10 v4.00 M168.40 352.00 v-7.00 M168.40 10.10 v7.00 M191.14 352.00 v-4.00 M191.14 10.10 v4.00 M213.88 352.00 v-4.00 M213.88 10.10 v4.00 M236.62 352.00 v-4.00 M236.62 10.10 v4.00 M259.36 352.00 v-4.00 M259.36 10.10 v4.00 M282.10 352.00 v-7.00 M282.10 10.10 v7.00 M304.84 352.00 v-4.00 M304.84 10.10 v4.00 M327.58 352.00 v-4.00 M327.58 10.10 v4.00 M350.32 352.00 v-4.00 M350.32 10.10 v4.00 M373.06 352.00 v-4.00 M373.06 10.10 v4.00 M395.80 352.00 v-7.00 M395.80 10.10 v7.00 M418.54 352.00 v-4.00 M418.54 10.10 v4.00 M441.28 352.00 v-4.00 M441.28 10.10 v4.00 M464.02 352.00 v-4.00 M464.02 10.10 v4.00 M486.76 352.00 v-4.00 M486.76 10.10 v4.00 M509.50 352.00 v-7.00 M509.50 10.10 v7.00 M532.24 352.00 v-4.00 M532.24 10.10 v4.00 M554.98 352.00 v-4.00 M554.98 10.10 v4.00 M577.72 352.00 v-4.00 M577.72 10.10 v4.00 M600.46 352.00 v-4.00 M600.46 10.10 v4.00 M623.20 352.00 v-7.00 M623.20 10.10 v7.00 M645.94 352.00 v-4.00 M645.94 10.10 v4.00 M668.68 352.00 v-4.00 M668.68 10.10 v4.00 M691.42 352.00 v-4.00 M691.42 10.10 v4.00 M714.16 352.00 v-4.00 M714.16 10.10 v4.00 M736.90 352.00 v-7.00 M736.90 10.10 v7.00 M54.50 352.00 h7.00 M737.30 352.00 h-7.00 M54.50 334.90 h4.00 M737.30 334.90 h-4.00 M54.50 317.81 h4.00 M737.30 317.81 h-4.00 M54.50 300.72 h4.00 M737.30 300.72 h-4.00 M54.50 283.62 h7.00 M737.30 283.62 h-7.00 M54.50 266.52 h4.00 M737.30 266.52 h-4.00 M54.50 249.43 h4.00 M737.30 249.43 h-4.00 M54.50 232.34 h4.00 M737.30 232.34 h-4.00 M54.50 215.24 h7.00 M737.30 215.24 h-7.00 M54.50 198.15 h4.00 M737.30 198.15 h-4.00 M54.50 181.05 h4.00 M737.30 181.05 h-4.00 M54.50 163.96 h4.00 M737.30 163.96 h-4.00 M54.50 146.86 h7.00 M737.30 146.86 h-7.00 M54.50 129.77 h4.00 M737.30 129.77 h-4.00 M54.50 112.67 h4.00 M737.30 112.67 h-4.00 M54.50 95.57 h4.00 M737.30 95.57 h-4.00 M54.50 78.48 h7.00 M737.30 78.48 h-7.00 M54.50 61.39 h4.00 M737.30 61.39 h-4.00 M54.50 44.29 h4.00 M737.30 44.29 h-4.00 M54.50 27.20 h4.00 M737.30 27.20 h-4.00 M54.50 10.10 h7.00 M737.30 10.10 h-7.00" stroke="#6b6b6b" stroke-width="1" fill="none"/>
<g style="font-family:'Liberation Sans',sans-serif;font-weight:bold" font-size="16.6px" fill="#000" stroke="#000" stroke-width="0.35">
<text x="54.70" y="374.3" text-anchor="middle">0</text>
<text x="168.40" y="374.3" text-anchor="middle">5</text>
<text x="282.10" y="374.3" text-anchor="middle">10</text>
<text x="395.80" y="374.3" text-anchor="middle">15</text>
<text x="509.50" y="374.3" text-anchor="middle">20</text>
<text x="623.20" y="374.3" text-anchor="middle">25</text>
<text x="736.90" y="374.3" text-anchor="middle">30</text>
<text x="49" y="358.70" text-anchor="end">0</text>
<text x="49" y="290.32" text-anchor="end">2</text>
<text x="49" y="221.94" text-anchor="end">4</text>
<text x="49" y="153.56" text-anchor="end">6</text>
<text x="49" y="85.18" text-anchor="end">8</text>
<text x="49" y="16.80" text-anchor="end">10</text>
<text x="134.20" y="274.3" text-anchor="middle">7</text>
<text x="174.50" y="274.3" text-anchor="middle">8</text>
<text x="214.80" y="274.3" text-anchor="middle">9</text>
<text x="255.10" y="274.3" text-anchor="middle">10</text>
<text x="295.40" y="274.3" text-anchor="middle">11</text>
<text x="335.70" y="274.3" text-anchor="middle">12</text>
<text x="109.2" y="249.70" text-anchor="end">0.2</text>
<text x="109.2" y="229.96" text-anchor="end">0.3</text>
<text x="109.2" y="210.22" text-anchor="end">0.4</text>
<text x="109.2" y="190.48" text-anchor="end">0.5</text>
<text x="109.2" y="170.74" text-anchor="end">0.6</text>
<text x="109.2" y="151.00" text-anchor="end">0.7</text>
<text x="625.4" y="85.00" font-size="17.0px">a=−0.014</text>
<text x="625.4" y="117.60" font-size="17.0px">a=−0.114</text>
<text x="625.4" y="150.20" font-size="17.0px">a=−0.214</text>
<text x="625.4" y="182.50" font-size="17.0px">a=−0.414</text>
<text x="625.4" y="214.60" font-size="17.0px">a=−0.814</text>
<text x="396" y="405.8" text-anchor="middle" font-style="italic" font-size="15.5px">τ</text>
<text transform="translate(15.2,188.2) rotate(-90)" font-style="italic" font-size="17px">r</text>
</g>
<path d="M12.7 178.5 H19.2 M15.95 175.2 V181.8" stroke="#000" stroke-width="0.8" fill="none"/>
<path d="M557.6 79.00 H616.0" stroke="#808080" stroke-width="2.6" fill="none"/>
<path d="M557.6 111.60 H616.0" stroke="#ff0000" stroke-width="2.6" fill="none"/>
<path d="M557.6 144.20 H613.5" stroke="#0000ff" stroke-width="2.6" fill="none" stroke-dasharray="8.3 3.3"/>
<path d="M557.6 176.50 H613.5" stroke="#00ff00" stroke-width="2.6" fill="none" stroke-dasharray="8.3 3.3"/>
<path d="M557.6 208.60 H613.5" stroke="#ff7f00" stroke-width="2.6" fill="none" stroke-dasharray="3.8 3.5"/>
<g clip-path="url(#ci)" fill="none" stroke-width="2.8" stroke-linejoin="round">
<path d="M347.97 227.43 L346.54 227.39 L345.12 227.36 L343.70 227.32 L342.29 227.29 L340.89 227.25 L339.49 227.21 L338.10 227.18 L336.72 227.14 L335.35 227.10 L333.98 227.07 L332.62 227.03 L331.27 226.99 L329.92 226.95 L328.58 226.91 L327.25 226.88 L325.92 226.84 L324.60 226.80 L323.29 226.76 L321.99 226.72 L320.69 226.68 L319.40 226.64 L318.11 226.60 L316.83 226.56 L315.56 226.52 L314.30 226.49 L313.04 226.44 L311.79 226.40 L310.54 226.36 L309.31 226.32 L308.07 226.28 L306.85 226.24 L305.63 226.20 L304.42 226.16 L303.21 226.12 L302.01 226.08 L300.82 226.03 L299.63 225.99 L298.45 225.95 L297.28 225.91 L296.11 225.86 L294.94 225.82 L293.79 225.78 L292.64 225.73 L291.50 225.69 L290.36 225.65 L289.23 225.60 L288.10 225.56 L286.98 225.51 L285.87 225.47 L284.76 225.42 L283.66 225.38 L282.57 225.33 L281.48 225.29 L280.40 225.24 L279.32 225.20 L278.25 225.15 L277.18 225.11 L276.12 225.06 L275.07 225.01 L274.02 224.97 L272.98 224.92 L271.94 224.87 L270.91 224.82 L269.88 224.78 L268.86 224.73 L267.85 224.68 L266.84 224.63 L265.84 224.58 L264.84 224.53 L263.85 224.48 L262.86 224.43 L261.88 224.38 L260.91 224.34 L259.94 224.29 L258.98 224.23 L258.02 224.18 L257.06 224.13 L256.12 224.08 L255.17 224.03 L254.24 223.98 L253.31 223.93 L252.38 223.88 L251.46 223.82 L250.54 223.77 L249.63 223.72 L248.73 223.67 L247.83 223.61 L246.93 223.56 L246.04 223.51 L245.16 223.45 L244.28 223.40 L243.40 223.34 L242.54 223.29 L241.67 223.23 L240.81 223.18 L239.96 223.12 L239.11 223.07 L237.43 222.96 L235.77 222.84 L234.12 222.73 L232.50 222.61 L230.90 222.50 L229.31 222.38 L227.75 222.26 L226.20 222.14 L224.68 222.02 L223.17 221.90 L221.68 221.78 L220.21 221.65 L218.76 221.53 L217.32 221.40 L215.91 221.27 L214.51 221.15 L213.13 221.02 L211.77 220.88 L210.43 220.75 L209.10 220.62 L207.79 220.48 L206.50 220.35 L205.23 220.21 L203.97 220.07 L202.73 219.93 L201.51 219.79 L200.31 219.65 L199.12 219.51 L197.95 219.36 L196.79 219.21 L195.65 219.07 L194.53 218.92 L193.42 218.77 L192.33 218.62 L191.26 218.46 L190.20 218.31 L189.16 218.15 L188.14 217.99 L187.13 217.83 L186.13 217.67 L185.15 217.51 L184.19 217.35 L183.24 217.18 L182.31 217.02 L181.39 216.85 L180.49 216.68 L179.61 216.51 L178.73 216.34 L177.88 216.16 L177.04 215.99 L176.21 215.81 L175.40 215.63 L174.60 215.45 L173.82 215.27 L173.05 215.08 L172.30 214.89 L171.56 214.71 L170.83 214.52 L170.12 214.33 L169.08 214.04 L168.08 213.74 L167.10 213.44 L166.16 213.14 L165.25 212.84 L164.37 212.52 L163.51 212.21 L162.70 211.89 L161.91 211.57 L161.15 211.24 L160.42 210.90 L159.72 210.57 L159.06 210.22 L158.42 209.88 L157.81 209.52 L157.23 209.17 L156.68 208.81 L156.00 208.32 L155.36 207.82 L154.78 207.31 L154.25 206.79 L153.77 206.26 L153.35 205.72 L152.97 205.18 L152.57 204.48 L152.25 203.76 L152.01 203.03 L151.85 202.28 L151.77 201.36 L151.79 200.41 L151.90 199.60 L152.08 198.77 L152.35 197.92 L152.62 197.23 L152.94 196.53 L153.31 195.81 L153.73 195.08 L154.07 194.52 L154.45 193.95 L154.85 193.38 L155.29 192.80 L155.75 192.21 L156.24 191.61 L156.76 191.00 L157.31 190.39 L157.88 189.76 L158.49 189.13 L159.12 188.49 L159.79 187.84 L160.48 187.18 L160.96 186.74 L161.45 186.29 L161.95 185.84 L162.47 185.38 L163.00 184.92 L163.54 184.46 L164.10 183.99 L164.67 183.51 L165.25 183.03 L165.84 182.55 L166.45 182.06 L167.07 181.57 L167.71 181.08 L168.36 180.58 L169.02 180.07 L169.69 179.56 L170.38 179.05 L171.08 178.53 L171.80 178.00 L172.53 177.47 L173.27 176.94 L174.02 176.40 L174.79 175.86 L175.57 175.31 L176.37 174.75 L177.18 174.19 L178.00 173.63 L178.84 173.06 L179.69 172.48 L180.56 171.90 L181.43 171.32 L182.33 170.73 L183.23 170.13 L184.15 169.53 L185.09 168.92 L186.03 168.31 L187.00 167.69 L187.97 167.07 L188.96 166.43 L189.97 165.80 L190.98 165.16 L192.02 164.51 L193.06 163.85 L194.12 163.19 L195.20 162.53 L196.29 161.86 L197.39 161.18 L198.51 160.49 L199.07 160.15 L199.64 159.80 L200.21 159.45 L200.78 159.10 L201.36 158.75 L201.95 158.40 L202.53 158.04 L203.12 157.69 L203.71 157.33 L204.31 156.97 L204.91 156.61 L205.51 156.25 L206.12 155.88 L206.73 155.52 L207.35 155.15 L207.97 154.78 L208.59 154.41 L209.21 154.04 L209.84 153.66 L210.48 153.28 L211.11 152.91 L211.75 152.53 L212.40 152.15 L213.04 151.76 L213.69 151.38 L214.35 150.99 L215.01 150.60 L215.67 150.21 L216.34 149.82 L217.01 149.42 L217.68 149.03 L218.36 148.63 L219.04 148.23 L219.72 147.83 L220.41 147.43 L221.10 147.02 L221.80 146.61 L222.49 146.20 L223.20 145.79 L223.90 145.38 L224.61 144.97 L225.33 144.55 L226.05 144.13 L226.77 143.71 L227.49 143.29 L228.22 142.86 L228.95 142.44 L229.69 142.01 L230.43 141.58 L231.17 141.15 L231.92 140.71 L232.67 140.28 L233.42 139.84 L234.18 139.40 L234.94 138.96 L235.71 138.51 L236.48 138.07 L237.25 137.62 L238.03 137.17 L238.81 136.72 L239.59 136.26 L240.38 135.80 L241.17 135.35 L241.97 134.88 L242.77 134.42 L243.57 133.96 L244.38 133.49 L245.19 133.02 L246.00 132.55 L246.82 132.07 L247.64 131.60 L248.46 131.12 L249.29 130.64 L250.12 130.16 L250.96 129.67 L251.80 129.18 L252.64 128.70 L253.49 128.20 L254.34 127.71 L255.20 127.21 L256.05 126.71 L256.92 126.21 L257.78 125.71 L258.65 125.21 L259.52 124.70 L260.40 124.19 L261.28 123.68 L262.16 123.16 L263.05 122.64 L263.94 122.12 L264.84 121.60 L265.73 121.08 L266.63 120.55 L267.54 120.02 L268.45 119.49 L269.36 118.96 L270.28 118.42 L271.20 117.88 L272.12 117.34 L273.05 116.79 L273.98 116.25 L274.91 115.70 L275.85 115.15 L276.79 114.59 L277.74 114.04 L278.68 113.48 L279.64 112.91 L280.59 112.35 L281.55 111.78 L282.51 111.21 L283.48 110.64 L284.45 110.07 L285.42 109.49 L286.40 108.91 L287.38 108.32 L288.36 107.74 L289.35 107.15 L290.34 106.56 L291.33 105.97 L292.33 105.37 L293.33 104.77 L294.33 104.17 L295.34 103.56 L296.35 102.95 L297.36 102.34 L298.38 101.73 L299.40 101.12 L300.42 100.50 L301.45 99.87 L302.48 99.25 L303.51 98.62 L304.55 97.99 L305.59 97.36 L306.63 96.72 L307.68 96.08 L308.73 95.44 L309.78 94.79 L310.83 94.15 L311.89 93.50 L312.96 92.84 L314.02 92.18 L315.09 91.52 L316.16 90.86 L317.23 90.19 L318.31 89.52 L319.39 88.85 L320.48 88.18 L321.56 87.50 L322.65 86.82 L323.74 86.13 L324.84 85.44 L325.94 84.75 L327.04 84.06 L328.14 83.36 L329.25 82.66 L330.36 81.95 L331.47 81.25 L332.58 80.54 L333.70 79.82 L334.82 79.10 L335.95 78.38 L337.07 77.66 L338.20 76.93 L339.33 76.20 L340.46 75.47 L341.60 74.73 L342.74 73.99 L343.88 73.25 L345.02 72.50 L346.17 71.75 L347.32 70.99 L348.05 70.51 L347.48 70.89 L346.91 71.26 L346.33 71.64 L345.76 72.02 L345.18 72.39 L344.61 72.77 L344.03 73.15 L343.45 73.52 L342.88 73.90 L342.30 74.28 L341.72 74.65 L341.14 75.03 L340.56 75.41 L339.98 75.78 L339.40 76.16 L338.81 76.54 L338.23 76.91 L337.65 77.29 L337.06 77.67 L336.48 78.04 L335.89 78.42 L335.30 78.80 L334.71 79.17 L334.13 79.55 L333.54 79.93 L332.95 80.30 L332.36 80.68 L331.77 81.06 L331.18 81.43 L330.58 81.81 L329.99 82.19 L329.40 82.56 L328.80 82.94 L328.21 83.32 L327.61 83.69 L327.02 84.07 L326.42 84.45 L325.82 84.82 L325.23 85.20 L324.67 85.55 L324.12 85.90 L323.57 86.24 L323.01 86.59 L322.46 86.94 L321.90 87.29 L321.35 87.63 L320.79 87.98 L320.23 88.33 L319.67 88.68 L319.12 89.02 L318.56 89.37 L318.00 89.72 L317.44 90.07 L316.88 90.41 L316.32 90.76 L315.76 91.11 L315.20 91.46 L314.63 91.81 L314.07 92.15 L313.51 92.50 L312.94 92.85 L312.38 93.20 L311.82 93.54 L311.25 93.89 L310.68 94.24 L310.12 94.59 L309.55 94.93 L308.98 95.28 L308.42 95.63 L307.85 95.98 L307.28 96.33 L306.71 96.67 L306.14 97.02 L305.57 97.37 L305.00 97.72 L304.43 98.06 L303.86 98.41 L303.29 98.76 L302.71 99.11 L302.14 99.45 L301.57 99.80 L300.99 100.15 L300.42 100.50 L299.84 100.84 L299.27 101.19 L298.69 101.54 L298.12 101.89 L297.54 102.24 L296.96 102.58 L296.39 102.93 L295.81 103.28 L295.23 103.63 L294.65 103.97 L294.07 104.32 L293.49 104.67 L292.91 105.02 L292.33 105.36 L291.75 105.71 L291.17 106.06 L290.59 106.41 L290.01 106.76 L289.43 107.10 L288.84 107.45 L288.26 107.80 L287.68 108.15 L287.09 108.49 L286.51 108.84 L285.92 109.19 L285.34 109.54 L284.75 109.88 L284.17 110.23 L283.58 110.58 L282.99 110.93 L282.41 111.27 L281.82 111.62 L281.23 111.97 L280.65 112.32 L280.06 112.67 L279.47 113.01 L278.88 113.36 L278.29 113.71 L277.70 114.06 L277.11 114.40 L276.52 114.75 L275.93 115.10 L275.34 115.45 L274.75 115.79 L274.16 116.14 L273.57 116.49 L272.97 116.84 L272.38 117.19 L271.79 117.53 L271.20 117.88 L270.60 118.23 L270.01 118.58 L269.42 118.92 L268.82 119.27 L268.23 119.62 L267.63 119.97 L267.04 120.31 L266.44 120.66 L265.85 121.01 L265.25 121.36 L264.66 121.70 L264.06 122.05 L263.47 122.40 L262.87 122.75 L262.27 123.10 L261.68 123.44 L261.08 123.79 L260.48 124.14 L259.89 124.49 L259.59 124.66" stroke="#808080" stroke-width="2.4"/>
<path d="M347.01 222.23 L345.62 222.20 L344.23 222.17 L342.86 222.13 L341.49 222.10 L340.13 222.06 L338.77 222.03 L337.42 221.99 L336.08 221.96 L334.75 221.92 L333.42 221.89 L332.10 221.85 L330.78 221.81 L329.48 221.78 L328.18 221.74 L326.88 221.71 L325.60 221.67 L324.32 221.63 L323.04 221.59 L321.78 221.56 L320.52 221.52 L319.27 221.48 L318.02 221.45 L316.78 221.41 L315.54 221.37 L314.32 221.33 L313.10 221.29 L311.88 221.25 L310.68 221.22 L309.47 221.18 L308.28 221.14 L307.09 221.10 L305.91 221.06 L304.73 221.02 L303.56 220.98 L302.40 220.94 L301.24 220.90 L300.09 220.86 L298.95 220.82 L297.81 220.78 L296.67 220.74 L295.55 220.70 L294.43 220.66 L293.31 220.61 L292.20 220.57 L291.10 220.53 L290.01 220.49 L288.91 220.45 L287.83 220.40 L286.75 220.36 L285.68 220.32 L284.61 220.28 L283.55 220.23 L282.50 220.19 L281.45 220.15 L280.40 220.10 L279.36 220.06 L278.33 220.01 L277.31 219.97 L276.29 219.92 L275.27 219.88 L274.26 219.83 L273.26 219.79 L272.26 219.74 L271.27 219.70 L270.28 219.65 L269.30 219.61 L268.32 219.56 L267.35 219.51 L266.38 219.47 L265.43 219.42 L264.47 219.37 L263.52 219.33 L262.58 219.28 L261.64 219.23 L260.71 219.18 L259.78 219.13 L258.86 219.09 L257.94 219.04 L257.03 218.99 L256.12 218.94 L255.22 218.89 L254.33 218.84 L253.44 218.79 L252.55 218.74 L251.67 218.69 L250.79 218.64 L249.92 218.59 L249.06 218.54 L248.20 218.49 L247.34 218.44 L246.49 218.38 L244.81 218.28 L243.15 218.17 L241.50 218.07 L239.88 217.96 L238.27 217.85 L236.68 217.74 L235.12 217.63 L233.57 217.52 L232.04 217.41 L230.53 217.30 L229.04 217.18 L227.56 217.07 L226.11 216.95 L224.67 216.84 L223.25 216.72 L221.85 216.60 L220.47 216.48 L219.11 216.36 L217.76 216.23 L216.43 216.11 L215.12 215.98 L213.83 215.86 L212.55 215.73 L211.29 215.60 L210.05 215.47 L208.82 215.34 L207.61 215.21 L206.42 215.07 L205.25 214.94 L204.09 214.80 L202.94 214.67 L201.82 214.53 L200.71 214.39 L199.61 214.25 L198.54 214.10 L197.47 213.96 L196.43 213.82 L195.40 213.67 L194.38 213.52 L193.38 213.37 L192.40 213.22 L191.43 213.07 L190.48 212.92 L189.54 212.76 L188.61 212.61 L187.71 212.45 L186.81 212.29 L185.94 212.13 L185.07 211.97 L184.22 211.80 L183.39 211.64 L182.57 211.47 L181.77 211.30 L180.97 211.14 L180.20 210.96 L179.44 210.79 L178.69 210.62 L177.96 210.44 L176.88 210.17 L175.84 209.90 L174.83 209.63 L173.85 209.35 L172.90 209.07 L171.98 208.78 L171.09 208.49 L170.23 208.20 L169.40 207.90 L168.61 207.60 L167.84 207.29 L167.10 206.98 L166.39 206.66 L165.71 206.34 L165.06 206.02 L164.43 205.69 L163.84 205.36 L163.28 205.02 L162.57 204.56 L161.91 204.10 L161.30 203.62 L160.74 203.14 L160.24 202.65 L159.78 202.15 L159.37 201.63 L158.92 200.98 L158.56 200.31 L158.27 199.63 L158.05 198.93 L157.89 198.07 L157.84 197.19 L157.90 196.28 L158.03 195.50 L158.24 194.71 L158.52 193.89 L158.80 193.23 L159.12 192.55 L159.50 191.86 L159.92 191.16 L160.39 190.44 L160.77 189.90 L161.18 189.35 L161.62 188.78 L162.08 188.22 L162.58 187.64 L163.10 187.06 L163.64 186.46 L164.22 185.86 L164.82 185.25 L165.45 184.64 L166.10 184.01 L166.78 183.38 L167.50 182.73 L167.99 182.30 L168.49 181.86 L169.00 181.42 L169.53 180.97 L170.07 180.52 L170.62 180.07 L171.18 179.61 L171.76 179.14 L172.34 178.68 L172.95 178.21 L173.56 177.73 L174.18 177.25 L174.82 176.76 L175.47 176.28 L176.14 175.78 L176.81 175.28 L177.50 174.78 L178.20 174.27 L178.92 173.76 L179.65 173.24 L180.39 172.72 L181.14 172.19 L181.90 171.66 L182.68 171.13 L183.47 170.58 L184.28 170.04 L185.10 169.49 L185.93 168.93 L186.77 168.37 L187.63 167.80 L188.50 167.23 L189.38 166.65 L190.27 166.07 L191.18 165.48 L192.11 164.89 L193.04 164.29 L193.99 163.68 L194.95 163.07 L195.93 162.46 L196.92 161.83 L197.92 161.21 L198.93 160.57 L199.96 159.93 L201.01 159.29 L202.06 158.64 L203.13 157.98 L204.22 157.32 L205.31 156.65 L206.42 155.97 L206.98 155.63 L207.55 155.29 L208.12 154.95 L208.69 154.60 L209.26 154.26 L209.84 153.91 L210.42 153.56 L211.00 153.21 L211.59 152.85 L212.18 152.50 L212.78 152.14 L213.38 151.79 L213.98 151.43 L214.58 151.07 L215.19 150.70 L215.80 150.34 L216.42 149.97 L217.04 149.60 L217.66 149.24 L218.29 148.86 L218.92 148.49 L219.55 148.12 L220.19 147.74 L220.83 147.36 L221.47 146.98 L222.12 146.60 L222.77 146.22 L223.42 145.83 L224.08 145.45 L224.74 145.06 L225.41 144.67 L226.07 144.27 L226.75 143.88 L227.42 143.48 L228.10 143.09 L228.78 142.69 L229.47 142.28 L230.16 141.88 L230.85 141.48 L231.55 141.07 L232.25 140.66 L232.95 140.25 L233.66 139.84 L234.37 139.42 L235.08 139.01 L235.80 138.59 L236.52 138.17 L237.24 137.74 L237.97 137.32 L238.70 136.89 L239.44 136.47 L240.18 136.04 L240.92 135.60 L241.66 135.17 L242.41 134.73 L243.17 134.30 L243.92 133.86 L244.68 133.41 L245.45 132.97 L246.21 132.52 L246.99 132.07 L247.76 131.62 L248.54 131.17 L249.32 130.72 L250.10 130.26 L250.89 129.80 L251.68 129.34 L252.48 128.88 L253.28 128.41 L254.08 127.94 L254.89 127.47 L255.70 127.00 L256.51 126.53 L257.33 126.05 L258.15 125.57 L258.97 125.09 L259.80 124.61 L260.63 124.13 L261.46 123.64 L262.30 123.15 L263.14 122.66 L263.99 122.16 L264.83 121.67 L265.69 121.17 L266.54 120.67 L267.40 120.17 L268.26 119.66 L269.13 119.15 L270.00 118.64 L270.87 118.13 L271.75 117.62 L272.63 117.10 L273.51 116.58 L274.40 116.06 L275.29 115.53 L276.18 115.01 L277.08 114.48 L277.98 113.94 L278.88 113.41 L279.79 112.87 L280.70 112.33 L281.61 111.79 L282.53 111.25 L283.45 110.70 L284.38 110.15 L285.30 109.60 L286.24 109.05 L287.17 108.49 L288.11 107.93 L289.05 107.37 L289.99 106.81 L290.94 106.24 L291.89 105.67 L292.85 105.10 L293.81 104.52 L294.77 103.94 L295.73 103.36 L296.70 102.78 L297.67 102.19 L298.64 101.61 L299.62 101.01 L300.60 100.42 L301.59 99.82 L302.57 99.23 L303.56 98.62 L304.56 98.02 L305.55 97.41 L306.55 96.80 L307.56 96.19 L308.56 95.57 L309.57 94.95 L310.58 94.33 L311.60 93.70 L312.62 93.08 L313.64 92.45 L314.66 91.81 L315.69 91.18 L316.72 90.54 L317.76 89.90 L318.79 89.25 L319.83 88.60 L320.88 87.95 L321.92 87.30 L322.97 86.64 L324.02 85.98 L325.08 85.32 L326.13 84.65 L327.19 83.98 L328.26 83.31 L329.32 82.63 L330.39 81.95 L331.46 81.27 L332.54 80.59 L333.61 79.90 L334.69 79.21 L335.78 78.51 L336.86 77.81 L337.95 77.11 L339.04 76.41 L340.13 75.70 L341.23 74.99 L342.32 74.28 L343.42 73.56 L344.53 72.84 L345.63 72.12 L346.74 71.39 L347.85 70.66 L347.28 71.03 L346.72 71.40 L346.16 71.77 L345.59 72.14 L345.03 72.51 L344.46 72.88 L343.90 73.25 L343.33 73.62 L342.77 73.99 L342.20 74.36 L341.63 74.73 L341.06 75.10 L340.49 75.47 L339.92 75.84 L339.35 76.21 L338.78 76.58 L338.20 76.95 L337.63 77.32 L337.06 77.69 L336.48 78.06 L335.91 78.43 L335.33 78.80 L334.75 79.17 L334.18 79.54 L333.60 79.91 L333.02 80.28 L332.44 80.65 L331.86 81.02 L331.28 81.39 L330.70 81.76 L330.12 82.13 L329.54 82.50 L328.95 82.87 L328.37 83.24 L327.79 83.61 L327.20 83.98 L326.61 84.35 L326.03 84.72 L325.44 85.09 L324.85 85.46 L324.27 85.83 L323.68 86.20 L323.09 86.57 L322.50 86.94 L321.91 87.30 L321.32 87.67 L320.73 88.04 L320.13 88.41 L319.54 88.78 L318.95 89.15 L318.35 89.52 L317.76 89.89 L317.16 90.26 L316.57 90.63 L315.97 91.00 L315.38 91.37 L314.78 91.74 L314.18 92.11 L313.58 92.48 L312.98 92.85 L312.38 93.22 L311.78 93.59 L311.18 93.96 L310.58 94.33 L309.98 94.70 L309.38 95.07 L308.77 95.44 L308.17 95.81 L307.56 96.18 L306.96 96.55 L306.35 96.92 L305.75 97.29 L305.14 97.66 L304.54 98.03 L303.93 98.40 L303.32 98.77 L302.71 99.14 L302.10 99.51 L301.49 99.88 L300.88 100.25 L300.27 100.62 L299.66 100.99 L299.05 101.36 L298.44 101.73 L297.88 102.07 L297.32 102.41 L296.75 102.75 L296.19 103.09 L295.63 103.42 L295.07 103.76 L294.50 104.10 L293.94 104.44 L293.37 104.78 L292.81 105.12 L292.24 105.46 L291.68 105.80 L291.11 106.14 L290.54 106.48 L289.98 106.81 L289.41 107.15 L288.84 107.49 L288.28 107.83 L287.71 108.17 L287.14 108.51 L286.57 108.85 L286.00 109.19 L285.43 109.53 L284.86 109.87 L284.29 110.20 L283.72 110.54 L283.15 110.88 L282.58 111.22 L282.01 111.56 L281.43 111.90 L280.86 112.24 L280.29 112.58 L279.72 112.92 L279.14 113.26 L278.57 113.60 L278.00 113.93 L277.42 114.27 L276.85 114.61 L276.27 114.95 L275.70 115.29 L275.12 115.63 L274.55 115.97 L273.97 116.31 L273.40 116.65 L272.82 116.99 L272.24 117.32 L271.67 117.66 L271.09 118.00 L270.51 118.34 L269.93 118.68 L269.36 119.02 L268.78 119.36 L268.20 119.70 L267.62 120.04 L267.04 120.38 L266.46 120.71 L265.89 121.05 L265.31 121.39 L264.73 121.73 L264.15 122.07 L263.57 122.41 L262.99 122.75 L262.41 123.09 L261.83 123.43 L261.25 123.77 L260.67 124.11 L260.08 124.44 L259.71 124.66" stroke="#ff0000"/>
<path d="M347.67 219.02 L346.29 218.99 L344.92 218.95 L343.56 218.92 L342.20 218.88 L340.85 218.85 L339.51 218.81 L338.17 218.78 L336.84 218.74 L335.52 218.70 L334.21 218.67 L332.90 218.63 L331.60 218.60 L330.30 218.56 L329.02 218.52 L327.73 218.48 L326.46 218.45 L325.19 218.41 L323.93 218.37 L322.68 218.34 L321.43 218.30 L320.19 218.26 L318.95 218.22 L317.73 218.18 L316.50 218.14 L315.29 218.11 L314.08 218.07 L312.88 218.03 L311.68 217.99 L310.49 217.95 L309.31 217.91 L308.14 217.87 L306.97 217.83 L305.80 217.79 L304.64 217.75 L303.49 217.71 L302.35 217.67 L301.21 217.63 L300.08 217.59 L298.95 217.55 L297.83 217.50 L296.71 217.46 L295.61 217.42 L294.50 217.38 L293.41 217.34 L292.32 217.29 L291.23 217.25 L290.15 217.21 L289.08 217.17 L288.01 217.12 L286.95 217.08 L285.90 217.04 L284.85 216.99 L283.81 216.95 L282.77 216.90 L281.74 216.86 L280.71 216.81 L279.69 216.77 L278.68 216.72 L277.67 216.68 L276.67 216.63 L275.67 216.59 L274.68 216.54 L273.69 216.50 L272.71 216.45 L271.73 216.40 L270.76 216.36 L269.80 216.31 L268.84 216.26 L267.89 216.22 L266.94 216.17 L266.00 216.12 L265.06 216.07 L264.13 216.02 L263.20 215.98 L262.28 215.93 L261.37 215.88 L260.46 215.83 L259.55 215.78 L258.65 215.73 L257.76 215.68 L256.87 215.63 L255.99 215.58 L255.11 215.53 L254.24 215.48 L253.37 215.43 L252.50 215.38 L251.65 215.33 L250.79 215.27 L249.10 215.17 L247.43 215.06 L245.78 214.96 L244.15 214.85 L242.54 214.74 L240.95 214.63 L239.38 214.52 L237.82 214.41 L236.29 214.30 L234.78 214.19 L233.28 214.07 L231.80 213.96 L230.35 213.84 L228.91 213.73 L227.49 213.61 L226.08 213.49 L224.70 213.37 L223.33 213.25 L221.99 213.12 L220.65 213.00 L219.34 212.87 L218.05 212.75 L216.77 212.62 L215.51 212.49 L214.26 212.36 L213.04 212.23 L211.83 212.10 L210.64 211.96 L209.46 211.83 L208.30 211.69 L207.16 211.56 L206.03 211.42 L204.93 211.28 L203.83 211.14 L202.76 210.99 L201.70 210.85 L200.65 210.71 L199.62 210.56 L198.61 210.41 L197.61 210.26 L196.63 210.11 L195.66 209.96 L194.71 209.81 L193.78 209.65 L192.86 209.50 L191.95 209.34 L191.06 209.18 L190.19 209.02 L189.33 208.86 L188.49 208.69 L187.66 208.53 L186.84 208.36 L186.04 208.19 L185.25 208.03 L184.48 207.85 L183.73 207.68 L182.98 207.51 L182.26 207.33 L181.19 207.06 L180.16 206.79 L179.15 206.52 L178.18 206.24 L177.24 205.96 L176.33 205.67 L175.46 205.38 L174.61 205.09 L173.79 204.79 L173.00 204.49 L172.25 204.18 L171.52 203.87 L170.82 203.55 L170.15 203.23 L169.52 202.91 L168.91 202.58 L168.33 202.25 L167.60 201.80 L166.92 201.34 L166.29 200.87 L165.71 200.39 L165.19 199.91 L164.71 199.41 L164.29 198.91 L163.82 198.26 L163.44 197.61 L163.13 196.93 L162.89 196.24 L162.71 195.40 L162.64 194.52 L162.68 193.63 L162.82 192.70 L163.02 191.92 L163.30 191.11 L163.58 190.45 L163.90 189.78 L164.28 189.10 L164.70 188.40 L165.16 187.69 L165.55 187.15 L165.95 186.60 L166.39 186.05 L166.85 185.49 L167.34 184.92 L167.86 184.34 L168.41 183.75 L168.98 183.15 L169.57 182.55 L170.20 181.94 L170.85 181.32 L171.53 180.69 L172.24 180.05 L172.73 179.62 L173.23 179.19 L173.74 178.75 L174.26 178.31 L174.80 177.86 L175.34 177.41 L175.91 176.96 L176.48 176.50 L177.06 176.03 L177.66 175.57 L178.27 175.10 L178.89 174.62 L179.53 174.14 L180.17 173.65 L180.83 173.17 L181.50 172.67 L182.19 172.17 L182.89 171.67 L183.59 171.16 L184.32 170.65 L185.05 170.13 L185.80 169.61 L186.56 169.08 L187.33 168.55 L188.12 168.02 L188.91 167.47 L189.73 166.93 L190.55 166.38 L191.39 165.82 L192.24 165.26 L193.10 164.69 L193.97 164.12 L194.86 163.54 L195.76 162.96 L196.68 162.37 L197.60 161.78 L198.54 161.18 L199.50 160.57 L200.46 159.96 L201.44 159.35 L202.44 158.72 L203.44 158.10 L204.46 157.46 L205.49 156.82 L206.54 156.18 L207.60 155.53 L208.67 154.87 L209.76 154.21 L210.86 153.54 L211.97 152.86 L212.53 152.52 L213.10 152.18 L213.67 151.84 L214.24 151.49 L214.81 151.15 L215.39 150.80 L215.97 150.45 L216.56 150.10 L217.15 149.74 L217.74 149.39 L218.33 149.03 L218.93 148.68 L219.53 148.32 L220.14 147.96 L220.75 147.59 L221.36 147.23 L221.98 146.86 L222.59 146.49 L223.22 146.13 L223.84 145.75 L224.47 145.38 L225.11 145.01 L225.74 144.63 L226.38 144.25 L227.02 143.87 L227.67 143.49 L228.32 143.11 L228.97 142.72 L229.63 142.34 L230.29 141.95 L230.96 141.56 L231.62 141.16 L232.29 140.77 L232.97 140.37 L233.65 139.98 L234.33 139.58 L235.01 139.17 L235.70 138.77 L236.39 138.37 L237.08 137.96 L237.78 137.55 L238.48 137.14 L239.19 136.73 L239.90 136.31 L240.61 135.90 L241.33 135.48 L242.05 135.06 L242.77 134.63 L243.49 134.21 L244.22 133.78 L244.96 133.36 L245.69 132.93 L246.43 132.49 L247.18 132.06 L247.92 131.62 L248.67 131.19 L249.43 130.75 L250.19 130.30 L250.95 129.86 L251.71 129.41 L252.48 128.96 L253.25 128.51 L254.02 128.06 L254.80 127.61 L255.58 127.15 L256.37 126.69 L257.16 126.23 L257.95 125.77 L258.75 125.30 L259.54 124.83 L260.35 124.36 L261.15 123.89 L261.96 123.42 L262.77 122.94 L263.59 122.46 L264.41 121.98 L265.23 121.50 L266.06 121.02 L266.89 120.53 L267.72 120.04 L268.56 119.55 L269.40 119.05 L270.24 118.56 L271.09 118.06 L271.94 117.56 L272.80 117.06 L273.65 116.55 L274.51 116.04 L275.38 115.53 L276.25 115.02 L277.12 114.51 L277.99 113.99 L278.87 113.47 L279.75 112.95 L280.64 112.42 L281.52 111.90 L282.41 111.37 L283.31 110.83 L284.21 110.30 L285.11 109.76 L286.01 109.22 L286.92 108.68 L287.83 108.14 L288.75 107.59 L289.66 107.04 L290.59 106.49 L291.51 105.94 L292.44 105.38 L293.37 104.82 L294.30 104.26 L295.24 103.70 L296.18 103.13 L297.13 102.56 L298.07 101.99 L299.02 101.41 L299.98 100.83 L300.94 100.25 L301.90 99.67 L302.86 99.08 L303.83 98.50 L304.79 97.90 L305.77 97.31 L306.74 96.71 L307.72 96.12 L308.71 95.51 L309.69 94.91 L310.68 94.30 L311.67 93.69 L312.66 93.08 L313.66 92.46 L314.66 91.84 L315.67 91.22 L316.67 90.59 L317.68 89.97 L318.70 89.34 L319.71 88.70 L320.73 88.07 L321.75 87.43 L322.78 86.79 L323.80 86.14 L324.83 85.49 L325.87 84.84 L326.90 84.19 L327.94 83.53 L328.98 82.87 L330.03 82.21 L331.07 81.54 L332.12 80.87 L333.18 80.20 L334.23 79.52 L335.29 78.84 L336.35 78.16 L337.41 77.48 L338.48 76.79 L339.55 76.10 L340.62 75.40 L341.69 74.70 L342.77 74.00 L343.85 73.30 L344.93 72.59 L346.01 71.88 L347.10 71.17 L348.06 70.53 L347.48 70.92 L346.90 71.30 L346.32 71.68 L345.74 72.06 L345.16 72.44 L344.57 72.83 L343.99 73.21 L343.40 73.59 L342.82 73.97 L342.23 74.36 L341.64 74.74 L341.05 75.12 L340.47 75.50 L339.88 75.89 L339.29 76.27 L338.69 76.65 L338.10 77.03 L337.51 77.41 L336.92 77.80 L336.32 78.18 L335.73 78.56 L335.13 78.94 L334.54 79.33 L333.94 79.71 L333.34 80.09 L332.75 80.47 L332.15 80.86 L331.55 81.24 L331.00 81.59 L330.45 81.94 L329.90 82.29 L329.35 82.64 L328.79 82.99 L328.24 83.34 L327.69 83.69 L327.13 84.04 L326.58 84.39 L326.02 84.74 L325.47 85.09 L324.91 85.44 L324.35 85.79 L323.80 86.14 L323.24 86.49 L322.68 86.84 L322.12 87.20 L321.56 87.55 L321.00 87.90 L320.44 88.25 L319.88 88.60 L319.32 88.95 L318.76 89.30 L318.20 89.65 L317.63 90.00 L317.07 90.35 L316.51 90.70 L315.94 91.05 L315.38 91.40 L314.81 91.75 L314.24 92.10 L313.68 92.45 L313.11 92.80 L312.54 93.15 L311.97 93.50 L311.40 93.85 L310.84 94.20 L310.27 94.55 L309.70 94.90 L309.13 95.26 L308.55 95.61 L307.98 95.96 L307.41 96.31 L306.84 96.66 L306.26 97.01 L305.69 97.36 L305.12 97.71 L304.54 98.06 L303.97 98.41 L303.39 98.76 L302.82 99.11 L302.24 99.46 L301.66 99.81 L301.09 100.16 L300.51 100.51 L299.93 100.86 L299.35 101.21 L298.77 101.56 L298.19 101.91 L297.61 102.26 L297.03 102.61 L296.45 102.96 L295.87 103.32 L295.29 103.67 L294.71 104.02 L294.13 104.37 L293.54 104.72 L292.96 105.07 L292.38 105.42 L291.79 105.77 L291.21 106.12 L290.62 106.47 L290.04 106.82 L289.45 107.17 L288.87 107.52 L288.28 107.87 L287.70 108.22 L287.11 108.57 L286.52 108.92 L285.93 109.27 L285.35 109.62 L284.76 109.97 L284.17 110.32 L283.58 110.67 L282.99 111.02 L282.40 111.38 L281.81 111.73 L281.22 112.08 L280.63 112.43 L280.04 112.78 L279.45 113.13 L278.85 113.48 L278.26 113.83 L277.67 114.18 L277.08 114.53 L276.48 114.88 L275.89 115.23 L275.30 115.58 L274.70 115.93 L274.11 116.28 L273.52 116.63 L272.92 116.98 L272.33 117.33 L271.73 117.68 L271.14 118.03 L270.54 118.38 L269.95 118.73 L269.35 119.08 L268.75 119.44 L268.16 119.79 L267.56 120.14 L266.96 120.49 L266.37 120.84 L265.77 121.19 L265.17 121.54 L264.57 121.89 L263.98 122.24 L263.38 122.59 L262.78 122.94 L262.18 123.29 L261.58 123.64 L260.99 123.99 L260.39 124.34 L259.84 124.66" stroke="#0000ff" stroke-dasharray="8.3 3.3"/>
<path d="M346.99 214.57 L345.64 214.53 L344.30 214.49 L342.96 214.46 L341.63 214.42 L340.31 214.38 L339.00 214.34 L337.69 214.31 L336.39 214.27 L335.09 214.23 L333.80 214.19 L332.52 214.16 L331.25 214.12 L329.98 214.08 L328.72 214.04 L327.47 214.00 L326.22 213.96 L324.98 213.92 L323.75 213.88 L322.52 213.84 L321.30 213.80 L320.08 213.76 L318.88 213.72 L317.67 213.68 L316.48 213.64 L315.29 213.60 L314.11 213.56 L312.93 213.52 L311.77 213.48 L310.60 213.44 L309.45 213.40 L308.30 213.36 L307.15 213.31 L306.01 213.27 L304.88 213.23 L303.76 213.19 L302.64 213.14 L301.53 213.10 L300.42 213.06 L299.32 213.01 L298.23 212.97 L297.14 212.93 L296.05 212.88 L294.98 212.84 L293.91 212.79 L292.84 212.75 L291.78 212.70 L290.73 212.66 L289.69 212.61 L288.64 212.57 L287.61 212.52 L286.58 212.48 L285.56 212.43 L284.54 212.38 L283.53 212.34 L282.52 212.29 L281.52 212.24 L280.53 212.20 L279.54 212.15 L278.56 212.10 L277.58 212.06 L276.61 212.01 L275.64 211.96 L274.68 211.91 L273.72 211.86 L272.77 211.81 L271.83 211.76 L270.89 211.71 L269.96 211.66 L269.03 211.61 L268.11 211.56 L267.19 211.51 L266.28 211.46 L265.37 211.41 L264.47 211.36 L263.58 211.31 L262.69 211.26 L261.80 211.21 L260.92 211.16 L260.05 211.10 L259.18 211.05 L258.31 211.00 L257.45 210.95 L256.60 210.89 L255.75 210.84 L254.07 210.73 L252.41 210.62 L250.77 210.51 L249.15 210.40 L247.55 210.29 L245.97 210.18 L244.41 210.07 L242.86 209.95 L241.34 209.84 L239.84 209.72 L238.35 209.60 L236.89 209.48 L235.44 209.36 L234.02 209.24 L232.61 209.12 L231.22 209.00 L229.85 208.87 L228.49 208.74 L227.16 208.62 L225.84 208.49 L224.54 208.36 L223.26 208.23 L222.00 208.10 L220.75 207.97 L219.53 207.83 L218.31 207.70 L217.12 207.56 L215.94 207.42 L214.79 207.28 L213.64 207.14 L212.52 207.00 L211.41 206.86 L210.32 206.71 L209.24 206.57 L208.18 206.42 L207.14 206.27 L206.11 206.12 L205.10 205.97 L204.11 205.82 L203.13 205.66 L202.17 205.51 L201.22 205.35 L200.29 205.19 L199.37 205.03 L198.47 204.87 L197.59 204.71 L196.72 204.55 L195.87 204.38 L195.03 204.21 L194.20 204.04 L193.40 203.87 L192.60 203.70 L191.82 203.53 L191.06 203.35 L190.31 203.18 L189.58 203.00 L188.50 202.73 L187.46 202.45 L186.45 202.17 L185.48 201.89 L184.53 201.61 L183.62 201.32 L182.74 201.02 L181.89 200.72 L181.07 200.42 L180.28 200.12 L179.53 199.80 L178.80 199.49 L178.10 199.17 L177.44 198.85 L176.80 198.52 L176.20 198.18 L175.62 197.85 L174.90 197.39 L174.23 196.92 L173.61 196.45 L173.05 195.96 L172.54 195.47 L172.07 194.97 L171.66 194.46 L171.22 193.81 L170.85 193.14 L170.57 192.46 L170.36 191.76 L170.21 190.90 L170.17 190.01 L170.25 189.10 L170.39 188.33 L170.62 187.53 L170.91 186.72 L171.21 186.05 L171.55 185.38 L171.94 184.69 L172.38 183.98 L172.87 183.27 L173.26 182.72 L173.69 182.17 L174.14 181.61 L174.62 181.04 L175.13 180.46 L175.66 179.88 L176.22 179.29 L176.81 178.69 L177.43 178.08 L178.07 177.46 L178.74 176.83 L179.44 176.20 L179.92 175.77 L180.41 175.34 L180.92 174.90 L181.44 174.46 L181.97 174.02 L182.51 173.57 L183.06 173.12 L183.63 172.66 L184.21 172.20 L184.80 171.74 L185.41 171.27 L186.02 170.79 L186.65 170.31 L187.29 169.83 L187.95 169.34 L188.61 168.85 L189.29 168.36 L189.98 167.86 L190.68 167.35 L191.40 166.84 L192.13 166.33 L192.87 165.81 L193.62 165.28 L194.39 164.75 L195.17 164.22 L195.96 163.68 L196.77 163.14 L197.58 162.59 L198.41 162.03 L199.26 161.47 L200.11 160.91 L200.98 160.34 L201.86 159.76 L202.76 159.18 L203.66 158.60 L204.58 158.01 L205.52 157.41 L206.46 156.81 L207.42 156.20 L208.39 155.59 L209.38 154.97 L210.38 154.35 L211.39 153.71 L212.41 153.08 L213.45 152.44 L214.50 151.79 L215.56 151.13 L216.64 150.47 L217.73 149.81 L218.83 149.14 L219.95 148.46 L220.51 148.12 L221.08 147.77 L221.65 147.43 L222.22 147.08 L222.80 146.73 L223.38 146.38 L223.96 146.03 L224.55 145.68 L225.14 145.32 L225.73 144.97 L226.33 144.61 L226.93 144.25 L227.53 143.89 L228.14 143.53 L228.75 143.16 L229.36 142.80 L229.98 142.43 L230.60 142.06 L231.22 141.69 L231.85 141.32 L232.48 140.94 L233.11 140.56 L233.75 140.19 L234.39 139.81 L235.03 139.42 L235.68 139.04 L236.33 138.66 L236.98 138.27 L237.64 137.88 L238.30 137.49 L238.96 137.10 L239.63 136.70 L240.30 136.31 L240.97 135.91 L241.65 135.51 L242.33 135.11 L243.02 134.71 L243.70 134.30 L244.40 133.89 L245.09 133.48 L245.79 133.07 L246.49 132.66 L247.19 132.25 L247.90 131.83 L248.61 131.41 L249.33 130.99 L250.05 130.57 L250.77 130.14 L251.49 129.72 L252.22 129.29 L252.95 128.86 L253.69 128.43 L254.43 127.99 L255.17 127.56 L255.91 127.12 L256.66 126.68 L257.42 126.24 L258.17 125.79 L258.93 125.35 L259.69 124.90 L260.46 124.45 L261.23 124.00 L262.00 123.54 L262.78 123.08 L263.55 122.63 L264.34 122.16 L265.12 121.70 L265.91 121.24 L266.71 120.77 L267.50 120.30 L268.30 119.83 L269.10 119.35 L269.91 118.88 L270.72 118.40 L271.53 117.92 L272.35 117.44 L273.17 116.95 L273.99 116.46 L274.82 115.97 L275.65 115.48 L276.48 114.99 L277.32 114.49 L278.16 113.99 L279.00 113.49 L279.85 112.99 L280.70 112.49 L281.55 111.98 L282.41 111.47 L283.27 110.96 L284.13 110.44 L285.00 109.92 L285.86 109.40 L286.74 108.88 L287.61 108.36 L288.49 107.83 L289.38 107.30 L290.26 106.77 L291.15 106.24 L292.04 105.70 L292.94 105.16 L293.84 104.62 L294.74 104.07 L295.65 103.53 L296.55 102.98 L297.47 102.43 L298.38 101.87 L299.30 101.32 L300.22 100.76 L301.14 100.19 L302.07 99.63 L303.00 99.06 L303.94 98.49 L304.87 97.92 L305.81 97.35 L306.76 96.77 L307.70 96.19 L308.65 95.60 L309.61 95.02 L310.56 94.43 L311.52 93.84 L312.48 93.25 L313.45 92.65 L314.41 92.05 L315.39 91.45 L316.36 90.84 L317.34 90.23 L318.32 89.62 L319.30 89.01 L320.28 88.39 L321.27 87.78 L322.26 87.15 L323.26 86.53 L324.26 85.90 L325.26 85.27 L326.26 84.64 L327.26 84.00 L328.27 83.36 L329.29 82.72 L330.30 82.07 L331.32 81.43 L332.34 80.78 L333.36 80.12 L334.38 79.46 L335.41 78.80 L336.44 78.14 L337.48 77.47 L338.51 76.80 L339.55 76.13 L340.59 75.46 L341.64 74.78 L342.68 74.10 L343.73 73.41 L344.78 72.72 L345.84 72.03 L346.89 71.34 L347.95 70.64 L347.37 71.02 L346.82 71.39 L346.26 71.75 L345.71 72.12 L345.15 72.48 L344.59 72.85 L344.04 73.21 L343.48 73.58 L342.92 73.94 L342.36 74.31 L341.80 74.67 L341.23 75.04 L340.67 75.40 L340.11 75.77 L339.55 76.13 L338.98 76.50 L338.42 76.87 L337.85 77.23 L337.29 77.60 L336.72 77.96 L336.15 78.33 L335.59 78.69 L335.02 79.06 L334.45 79.42 L333.88 79.79 L333.31 80.15 L332.74 80.52 L332.17 80.88 L331.59 81.25 L331.02 81.62 L330.45 81.98 L329.87 82.35 L329.30 82.71 L328.72 83.08 L328.15 83.44 L327.57 83.81 L326.99 84.17 L326.42 84.54 L325.84 84.90 L325.26 85.27 L324.68 85.63 L324.10 86.00 L323.52 86.36 L322.94 86.73 L322.36 87.10 L321.78 87.46 L321.19 87.83 L320.61 88.19 L320.03 88.56 L319.44 88.92 L318.86 89.29 L318.27 89.65 L317.68 90.02 L317.10 90.38 L316.51 90.75 L315.92 91.11 L315.33 91.48 L314.74 91.84 L314.16 92.21 L313.57 92.58 L312.97 92.94 L312.38 93.31 L311.79 93.67 L311.20 94.04 L310.61 94.40 L310.01 94.77 L309.42 95.13 L308.83 95.50 L308.23 95.86 L307.64 96.23 L307.04 96.59 L306.44 96.96 L305.85 97.33 L305.25 97.69 L304.65 98.06 L304.05 98.42 L303.46 98.79 L302.86 99.15 L302.26 99.52 L301.66 99.88 L301.06 100.25 L300.46 100.61 L299.85 100.98 L299.25 101.34 L298.65 101.71 L298.05 102.07 L297.44 102.44 L296.84 102.81 L296.24 103.17 L295.63 103.54 L295.03 103.90 L294.42 104.27 L293.81 104.63 L293.21 105.00 L292.60 105.36 L291.99 105.73 L291.39 106.09 L290.78 106.46 L290.17 106.82 L289.56 107.19 L288.95 107.55 L288.34 107.92 L287.73 108.29 L287.12 108.65 L286.51 109.02 L285.90 109.38 L285.29 109.75 L284.68 110.11 L284.07 110.48 L283.45 110.84 L282.84 111.21 L282.23 111.57 L281.61 111.94 L281.00 112.30 L280.39 112.67 L279.77 113.04 L279.16 113.40 L278.54 113.77 L277.93 114.13 L277.31 114.50 L276.70 114.86 L276.08 115.23 L275.46 115.59 L274.85 115.96 L274.23 116.32 L273.61 116.69 L273.00 117.05 L272.38 117.42 L271.76 117.78 L271.14 118.15 L270.52 118.52 L269.90 118.88 L269.29 119.25 L268.67 119.61 L268.05 119.98 L267.43 120.34 L266.81 120.71 L266.19 121.07 L265.57 121.44 L264.95 121.80 L264.33 122.17 L263.71 122.53 L263.09 122.90 L262.47 123.27 L261.85 123.63 L261.23 124.00 L260.61 124.36 L260.10 124.66" stroke="#00ff00" stroke-dasharray="8.3 3.3"/>
<path d="M348.01 208.84 L346.69 208.80 L345.38 208.76 L344.08 208.72 L342.78 208.68 L341.49 208.64 L340.21 208.60 L338.93 208.56 L337.66 208.52 L336.40 208.48 L335.15 208.43 L333.90 208.39 L332.65 208.35 L331.42 208.31 L330.19 208.27 L328.97 208.23 L327.75 208.18 L326.54 208.14 L325.34 208.10 L324.15 208.05 L322.96 208.01 L321.77 207.97 L320.60 207.92 L319.43 207.88 L318.26 207.84 L317.11 207.79 L315.96 207.75 L314.81 207.70 L313.67 207.66 L312.54 207.61 L311.42 207.57 L310.30 207.52 L309.19 207.48 L308.08 207.43 L306.98 207.39 L305.88 207.34 L304.80 207.29 L303.72 207.25 L302.64 207.20 L301.57 207.15 L300.51 207.10 L299.45 207.06 L298.40 207.01 L297.35 206.96 L296.31 206.91 L295.28 206.86 L294.25 206.82 L293.23 206.77 L292.21 206.72 L291.20 206.67 L290.20 206.62 L289.20 206.57 L288.21 206.52 L287.22 206.47 L286.24 206.42 L285.26 206.37 L284.29 206.32 L283.33 206.27 L282.37 206.21 L281.42 206.16 L280.47 206.11 L279.53 206.06 L278.59 206.01 L277.66 205.95 L276.74 205.90 L275.82 205.85 L274.90 205.79 L273.99 205.74 L273.09 205.69 L272.19 205.63 L271.30 205.58 L270.42 205.52 L269.53 205.47 L268.66 205.41 L267.79 205.36 L266.92 205.30 L266.06 205.25 L265.21 205.19 L264.36 205.13 L263.51 205.08 L261.84 204.96 L260.19 204.85 L258.56 204.73 L256.95 204.61 L255.36 204.50 L253.78 204.38 L252.23 204.26 L250.70 204.13 L249.19 204.01 L247.70 203.89 L246.23 203.76 L244.78 203.64 L243.35 203.51 L241.93 203.38 L240.54 203.25 L239.16 203.12 L237.81 202.99 L236.47 202.85 L235.15 202.72 L233.85 202.58 L232.56 202.45 L231.30 202.31 L230.05 202.17 L228.82 202.03 L227.61 201.88 L226.42 201.74 L225.24 201.60 L224.08 201.45 L222.94 201.30 L221.82 201.15 L220.71 201.00 L219.63 200.85 L218.55 200.70 L217.50 200.54 L216.46 200.39 L215.44 200.23 L214.43 200.07 L213.45 199.91 L212.47 199.75 L211.52 199.58 L210.58 199.42 L209.66 199.25 L208.75 199.08 L207.86 198.91 L206.98 198.74 L206.12 198.57 L205.28 198.40 L204.45 198.22 L203.64 198.04 L202.85 197.86 L202.06 197.68 L201.30 197.50 L200.55 197.32 L199.81 197.13 L199.09 196.94 L198.04 196.66 L197.02 196.37 L196.04 196.08 L195.09 195.78 L194.17 195.48 L193.28 195.17 L192.43 194.86 L191.61 194.55 L190.82 194.23 L190.06 193.91 L189.34 193.58 L188.65 193.25 L187.99 192.91 L187.36 192.57 L186.76 192.23 L186.19 191.88 L185.48 191.40 L184.82 190.92 L184.22 190.43 L183.68 189.92 L183.18 189.41 L182.74 188.89 L182.35 188.36 L181.94 187.69 L181.61 186.99 L181.37 186.28 L181.18 185.41 L181.10 184.52 L181.14 183.59 L181.26 182.81 L181.46 182.00 L181.74 181.17 L182.02 180.50 L182.35 179.81 L182.73 179.11 L183.16 178.40 L183.64 177.68 L184.03 177.12 L184.45 176.56 L184.90 176.00 L185.38 175.42 L185.89 174.83 L186.42 174.24 L186.98 173.64 L187.57 173.03 L188.19 172.42 L188.84 171.79 L189.51 171.15 L190.21 170.51 L190.70 170.08 L191.19 169.64 L191.70 169.20 L192.22 168.75 L192.76 168.30 L193.30 167.85 L193.86 167.39 L194.43 166.92 L195.02 166.46 L195.61 165.98 L196.22 165.51 L196.84 165.03 L197.48 164.54 L198.13 164.05 L198.79 163.56 L199.46 163.06 L200.14 162.56 L200.84 162.05 L201.55 161.54 L202.27 161.02 L203.01 160.50 L203.76 159.97 L204.52 159.44 L205.29 158.90 L206.08 158.36 L206.88 157.82 L207.69 157.27 L208.52 156.71 L209.35 156.15 L210.20 155.58 L211.07 155.01 L211.94 154.43 L212.83 153.85 L213.74 153.26 L214.65 152.66 L215.58 152.07 L216.52 151.46 L217.47 150.85 L218.44 150.23 L219.42 149.61 L220.41 148.99 L221.42 148.35 L222.44 147.71 L223.47 147.07 L224.52 146.42 L225.58 145.76 L226.65 145.10 L227.73 144.43 L228.83 143.75 L229.94 143.07 L230.50 142.73 L231.06 142.38 L231.63 142.04 L232.20 141.69 L232.78 141.34 L233.35 140.99 L233.93 140.63 L234.52 140.28 L235.10 139.92 L235.69 139.57 L236.29 139.21 L236.88 138.84 L237.48 138.48 L238.09 138.12 L238.69 137.75 L239.30 137.38 L239.92 137.01 L240.54 136.64 L241.16 136.27 L241.78 135.90 L242.41 135.52 L243.04 135.14 L243.67 134.76 L244.31 134.38 L244.95 134.00 L245.59 133.61 L246.24 133.22 L246.89 132.84 L247.54 132.44 L248.20 132.05 L248.86 131.66 L249.52 131.26 L250.19 130.86 L250.86 130.47 L251.53 130.06 L252.21 129.66 L252.89 129.26 L253.57 128.85 L254.26 128.44 L254.95 128.03 L255.64 127.62 L256.34 127.20 L257.04 126.78 L257.74 126.37 L258.45 125.95 L259.16 125.52 L259.87 125.10 L260.59 124.67 L261.31 124.24 L262.03 123.81 L262.76 123.38 L263.49 122.95 L264.22 122.51 L264.96 122.07 L265.70 121.63 L266.44 121.19 L267.19 120.75 L267.94 120.30 L268.69 119.85 L269.45 119.40 L270.21 118.95 L270.97 118.50 L271.73 118.04 L272.50 117.58 L273.28 117.12 L274.05 116.66 L274.83 116.19 L275.62 115.72 L276.40 115.25 L277.19 114.78 L277.99 114.31 L278.78 113.83 L279.58 113.35 L280.38 112.87 L281.19 112.39 L282.00 111.91 L282.81 111.42 L283.63 110.93 L284.45 110.44 L285.27 109.94 L286.09 109.45 L286.92 108.95 L287.75 108.45 L288.59 107.95 L289.43 107.44 L290.27 106.93 L291.11 106.42 L291.96 105.91 L292.81 105.39 L293.67 104.88 L294.53 104.36 L295.39 103.84 L296.25 103.31 L297.12 102.78 L297.99 102.26 L298.86 101.72 L299.74 101.19 L300.62 100.65 L301.50 100.11 L302.39 99.57 L303.28 99.03 L304.17 98.48 L305.06 97.93 L305.96 97.38 L306.87 96.83 L307.77 96.27 L308.68 95.71 L309.59 95.15 L310.50 94.58 L311.42 94.02 L312.34 93.45 L313.26 92.88 L314.19 92.30 L315.12 91.72 L316.05 91.14 L316.98 90.56 L317.92 89.97 L318.86 89.38 L319.81 88.79 L320.75 88.20 L321.70 87.60 L322.66 87.00 L323.61 86.40 L324.57 85.80 L325.53 85.19 L326.49 84.58 L327.46 83.97 L328.43 83.35 L329.40 82.73 L330.38 82.11 L331.36 81.48 L332.34 80.86 L333.32 80.23 L334.31 79.59 L335.30 78.96 L336.29 78.32 L337.28 77.67 L338.28 77.03 L339.28 76.38 L340.28 75.73 L341.29 75.08 L342.29 74.42 L343.30 73.76 L344.32 73.10 L345.33 72.43 L346.35 71.76 L347.37 71.09 L348.05 70.64 L347.46 71.02 L346.88 71.41 L346.30 71.79 L345.72 72.18 L345.13 72.56 L344.55 72.94 L343.96 73.33 L343.38 73.71 L342.79 74.10 L342.20 74.48 L341.61 74.86 L341.02 75.25 L340.43 75.63 L339.84 76.01 L339.25 76.40 L338.66 76.78 L338.07 77.17 L337.47 77.55 L336.88 77.93 L336.29 78.32 L335.69 78.70 L335.09 79.09 L334.50 79.47 L333.90 79.85 L333.30 80.24 L332.70 80.62 L332.10 81.01 L331.50 81.39 L330.90 81.77 L330.30 82.16 L329.70 82.54 L329.10 82.92 L328.50 83.31 L327.89 83.69 L327.29 84.08 L326.68 84.46 L326.08 84.84 L325.52 85.19 L324.97 85.54 L324.42 85.89 L323.87 86.24 L323.31 86.59 L322.76 86.94 L322.21 87.29 L321.65 87.64 L321.10 87.98 L320.54 88.33 L319.98 88.68 L319.43 89.03 L318.87 89.38 L318.31 89.73 L317.75 90.08 L317.20 90.43 L316.64 90.78 L316.08 91.12 L315.52 91.47 L314.96 91.82 L314.39 92.17 L313.83 92.52 L313.27 92.87 L312.71 93.22 L312.14 93.57 L311.58 93.92 L311.02 94.27 L310.45 94.61 L309.89 94.96 L309.32 95.31 L308.76 95.66 L308.19 96.01 L307.62 96.36 L307.06 96.71 L306.49 97.06 L305.92 97.41 L305.35 97.76 L304.79 98.10 L304.22 98.45 L303.65 98.80 L303.08 99.15 L302.51 99.50 L301.94 99.85 L301.36 100.20 L300.79 100.55 L300.22 100.90 L299.65 101.24 L299.08 101.59 L298.50 101.94 L297.93 102.29 L297.36 102.64 L296.78 102.99 L296.21 103.34 L295.63 103.69 L295.06 104.04 L294.48 104.39 L293.91 104.73 L293.33 105.08 L292.75 105.43 L292.18 105.78 L291.60 106.13 L291.02 106.48 L290.44 106.83 L289.86 107.18 L289.29 107.53 L288.71 107.88 L288.13 108.22 L287.55 108.57 L286.97 108.92 L286.39 109.27 L285.81 109.62 L285.23 109.97 L284.65 110.32 L284.06 110.67 L283.48 111.02 L282.90 111.36 L282.32 111.71 L281.74 112.06 L281.16 112.41 L280.57 112.76 L279.99 113.11 L279.41 113.46 L278.82 113.81 L278.24 114.16 L277.66 114.51 L277.07 114.85 L276.49 115.20 L275.90 115.55 L275.32 115.90 L274.73 116.25 L274.15 116.60 L273.56 116.95 L272.98 117.30 L272.39 117.65 L271.81 117.99 L271.22 118.34 L270.64 118.69 L270.05 119.04 L269.47 119.39 L268.88 119.74 L268.29 120.09 L267.71 120.44 L267.12 120.79 L266.53 121.14 L265.95 121.48 L265.36 121.83 L264.77 122.18 L264.19 122.53 L263.60 122.88 L263.01 123.23 L262.43 123.58 L261.84 123.93 L261.25 124.28 L260.67 124.63 L260.61 124.66" stroke="#ff7f00" stroke-dasharray="4.1 3.2"/>
</g>
<rect x="114.60" y="140.80" width="221.40" height="110.50" fill="none" stroke="#6b6b6b" stroke-width="1"/>
<path d="M118.38 251.30 v-2.10 M118.38 140.80 v2.10 M126.44 251.30 v-2.10 M126.44 140.80 v2.10 M134.50 251.30 v-3.70 M134.50 140.80 v3.70 M142.56 251.30 v-2.10 M142.56 140.80 v2.10 M150.62 251.30 v-2.10 M150.62 140.80 v2.10 M158.68 251.30 v-2.10 M158.68 140.80 v2.10 M166.74 251.30 v-2.10 M166.74 140.80 v2.10 M174.80 251.30 v-3.70 M174.80 140.80 v3.70 M182.86 251.30 v-2.10 M182.86 140.80 v2.10 M190.92 251.30 v-2.10 M190.92 140.80 v2.10 M198.98 251.30 v-2.10 M198.98 140.80 v2.10 M207.04 251.30 v-2.10 M207.04 140.80 v2.10 M215.10 251.30 v-3.70 M215.10 140.80 v3.70 M223.16 251.30 v-2.10 M223.16 140.80 v2.10 M231.22 251.30 v-2.10 M231.22 140.80 v2.10 M239.28 251.30 v-2.10 M239.28 140.80 v2.10 M247.34 251.30 v-2.10 M247.34 140.80 v2.10 M255.40 251.30 v-3.70 M255.40 140.80 v3.70 M263.46 251.30 v-2.10 M263.46 140.80 v2.10 M271.52 251.30 v-2.10 M271.52 140.80 v2.10 M279.58 251.30 v-2.10 M279.58 140.80 v2.10 M287.64 251.30 v-2.10 M287.64 140.80 v2.10 M295.70 251.30 v-3.70 M295.70 140.80 v3.70 M303.76 251.30 v-2.10 M303.76 140.80 v2.10 M311.82 251.30 v-2.10 M311.82 140.80 v2.10 M319.88 251.30 v-2.10 M319.88 140.80 v2.10 M327.94 251.30 v-2.10 M327.94 140.80 v2.10 M336.00 251.30 v-3.70 M336.00 140.80 v3.70 M114.60 251.00 h1.90 M336.00 251.00 h-1.90 M114.60 247.05 h1.90 M336.00 247.05 h-1.90 M114.60 243.10 h3.50 M336.00 243.10 h-3.50 M114.60 239.15 h1.90 M336.00 239.15 h-1.90 M114.60 235.20 h1.90 M336.00 235.20 h-1.90 M114.60 231.26 h1.90 M336.00 231.26 h-1.90 M114.60 227.31 h1.90 M336.00 227.31 h-1.90 M114.60 223.36 h3.50 M336.00 223.36 h-3.50 M114.60 219.41 h1.90 M336.00 219.41 h-1.90 M114.60 215.46 h1.90 M336.00 215.46 h-1.90 M114.60 211.52 h1.90 M336.00 211.52 h-1.90 M114.60 207.57 h1.90 M336.00 207.57 h-1.90 M114.60 203.62 h3.50 M336.00 203.62 h-3.50 M114.60 199.67 h1.90 M336.00 199.67 h-1.90 M114.60 195.72 h1.90 M336.00 195.72 h-1.90 M114.60 191.78 h1.90 M336.00 191.78 h-1.90 M114.60 187.83 h1.90 M336.00 187.83 h-1.90 M114.60 183.88 h3.50 M336.00 183.88 h-3.50 M114.60 179.93 h1.90 M336.00 179.93 h-1.90 M114.60 175.98 h1.90 M336.00 175.98 h-1.90 M114.60 172.04 h1.90 M336.00 172.04 h-1.90 M114.60 168.09 h1.90 M336.00 168.09 h-1.90 M114.60 164.14 h3.50 M336.00 164.14 h-3.50 M114.60 160.19 h1.90 M336.00 160.19 h-1.90 M114.60 156.24 h1.90 M336.00 156.24 h-1.90 M114.60 152.30 h1.90 M336.00 152.30 h-1.90 M114.60 148.35 h1.90 M336.00 148.35 h-1.90 M114.60 144.40 h3.50 M336.00 144.40 h-3.50" stroke="#6b6b6b" stroke-width="0.7" fill="none"/>
<path d="M237.7 284.1 L233.3 300.2" stroke="#000" stroke-width="1.25" fill="none"/>
<path d="M227.1 324.2 L226.4 294.5 Q229.8 297.6 234.1 299.7 Q237.8 299.6 241.7 298.3 Z" fill="#000"/>
</svg></body></html>
